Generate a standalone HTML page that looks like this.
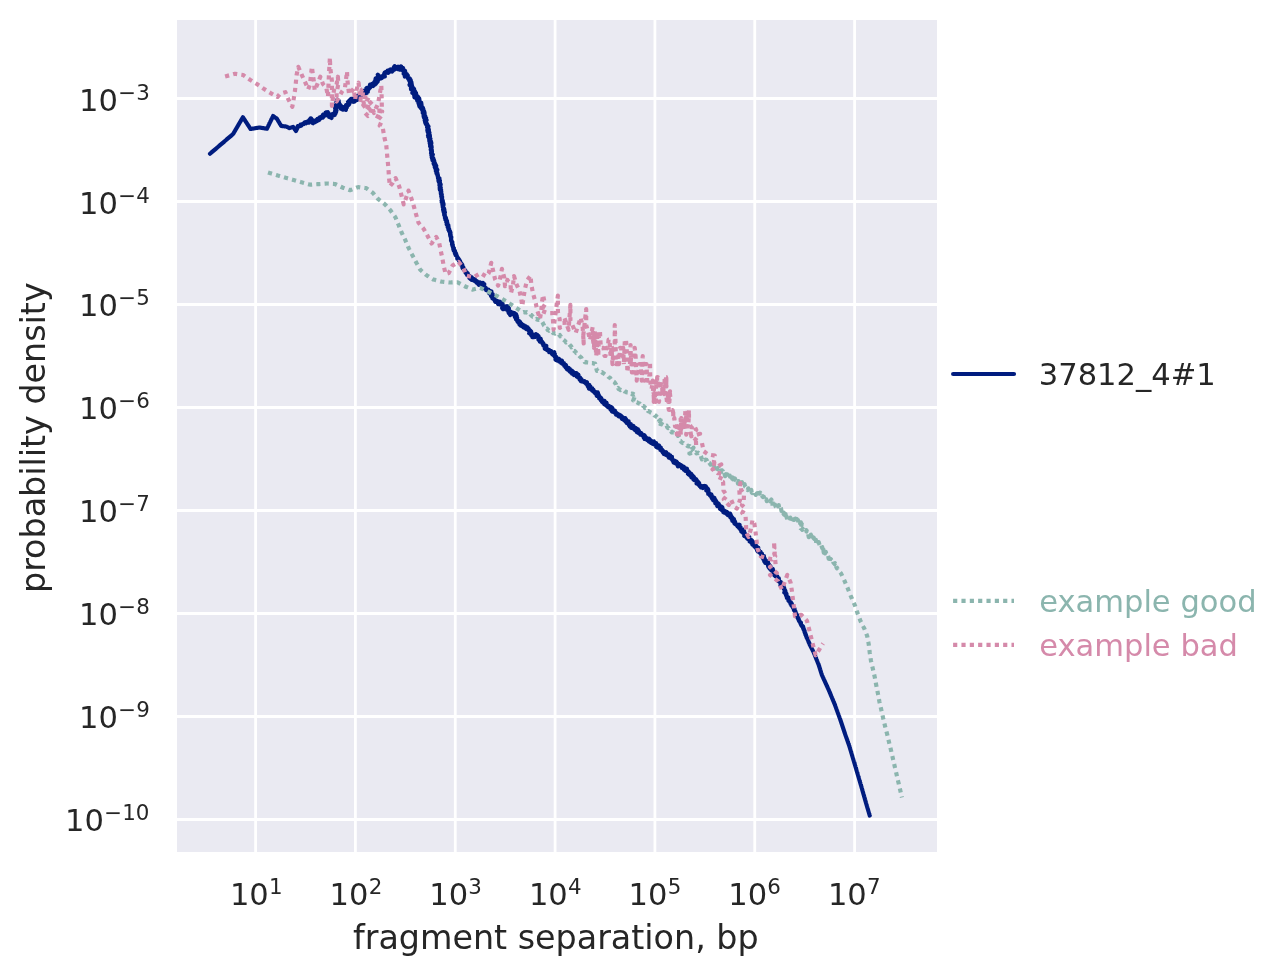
<!DOCTYPE html>
<html lang="en"><head><meta charset="utf-8"><title>fragment separation</title>
<style>html,body{margin:0;padding:0;background:#fff;}body{width:1283px;height:976px;overflow:hidden;}svg{display:block;}text{font-family:"DejaVu Sans","Liberation Sans",sans-serif;}</style>
</head><body>
<svg width="1283" height="976" viewBox="0 0 1283 976">
<rect x="0" y="0" width="1283" height="976" fill="#ffffff"/>
<defs><clipPath id="ax"><rect x="177" y="20" width="760" height="832"/></clipPath></defs>
<rect x="177" y="20" width="760" height="832" fill="#eaeaf2"/>
<g stroke="#ffffff" stroke-width="2.78" fill="none">
<line x1="255.60" y1="20" x2="255.60" y2="852"/>
<line x1="355.43" y1="20" x2="355.43" y2="852"/>
<line x1="455.26" y1="20" x2="455.26" y2="852"/>
<line x1="555.09" y1="20" x2="555.09" y2="852"/>
<line x1="654.92" y1="20" x2="654.92" y2="852"/>
<line x1="754.75" y1="20" x2="754.75" y2="852"/>
<line x1="854.58" y1="20" x2="854.58" y2="852"/>
<line x1="177" y1="98.50" x2="937" y2="98.50"/>
<line x1="177" y1="201.50" x2="937" y2="201.50"/>
<line x1="177" y1="304.50" x2="937" y2="304.50"/>
<line x1="177" y1="407.50" x2="937" y2="407.50"/>
<line x1="177" y1="510.50" x2="937" y2="510.50"/>
<line x1="177" y1="613.50" x2="937" y2="613.50"/>
<line x1="177" y1="716.50" x2="937" y2="716.50"/>
<line x1="177" y1="819.50" x2="937" y2="819.50"/>
</g>
<g clip-path="url(#ax)" fill="none" stroke-linejoin="round">
<path d="M210.00,153.75 L210.30,153.49 L210.61,153.23 L210.91,152.97 L211.22,152.71 L211.52,152.45 L211.82,152.19 L212.13,151.93 L212.43,151.67 L212.74,151.41 L213.04,151.15 L213.34,150.89 L213.65,150.63 L213.95,150.37 L214.26,150.11 L214.56,149.85 L214.86,149.59 L215.17,149.33 L215.47,149.07 L215.78,148.81 L216.08,148.55 L216.38,148.29 L216.69,148.03 L216.99,147.77 L217.29,147.51 L217.60,147.25 L217.90,146.99 L218.21,146.73 L218.51,146.47 L218.81,146.21 L219.12,145.95 L219.42,145.69 L219.73,145.43 L220.03,145.17 L220.33,144.91 L220.64,144.65 L220.94,144.39 L221.25,144.13 L221.55,143.88 L221.85,143.62 L222.16,143.36 L222.46,143.10 L222.77,142.84 L223.07,142.58 L223.37,142.32 L223.68,142.06 L223.98,141.80 L224.29,141.54 L224.59,141.28 L224.89,141.02 L225.20,140.76 L225.50,140.50 L225.81,140.24 L226.11,139.98 L226.41,139.72 L226.72,139.46 L227.02,139.20 L227.32,138.94 L227.63,138.68 L227.93,138.42 L228.24,138.16 L228.54,137.90 L228.84,137.64 L229.15,137.38 L229.45,137.12 L229.76,136.86 L230.06,136.60 L230.36,136.34 L230.67,136.08 L230.97,135.82 L231.28,135.56 L231.58,135.30 L231.88,135.04 L232.19,134.78 L232.49,134.52 L232.80,134.26 L233.10,134.00 L233.30,133.66 L233.50,133.32 L233.70,132.97 L233.90,132.63 L234.10,132.29 L234.30,131.95 L234.50,131.61 L234.70,131.27 L234.90,130.92 L235.10,130.58 L235.30,130.24 L235.50,129.90 L235.70,129.56 L235.90,129.21 L236.10,128.87 L236.30,128.53 L236.50,128.19 L236.70,127.85 L236.90,127.51 L237.10,127.16 L237.30,126.82 L237.50,126.48 L237.70,126.14 L237.90,125.80 L238.10,125.45 L238.30,125.11 L238.50,124.77 L238.70,124.43 L238.90,124.09 L239.10,123.74 L239.30,123.40 L239.50,123.06 L239.70,122.72 L239.90,122.38 L240.10,122.04 L240.30,121.69 L240.50,121.35 L240.70,121.01 L240.90,120.67 L241.10,120.33 L241.30,119.98 L241.50,119.64 L241.70,119.30 L241.90,118.96 L242.10,118.62 L242.30,118.28 L242.50,117.93 L242.70,117.59 L242.90,117.25 L243.12,117.59 L243.34,117.92 L243.56,118.26 L243.78,118.59 L244.00,118.93 L244.22,119.26 L244.44,119.60 L244.66,119.94 L244.88,120.27 L245.10,120.61 L245.32,120.94 L245.54,121.28 L245.76,121.61 L245.98,121.95 L246.20,122.29 L246.42,122.62 L246.64,122.96 L246.86,123.29 L247.08,123.63 L247.30,123.96 L247.52,124.30 L247.74,124.64 L247.96,124.97 L248.18,125.31 L248.40,125.64 L248.62,125.98 L248.84,126.31 L249.06,126.65 L249.28,126.99 L249.50,127.32 L249.72,127.66 L249.94,127.99 L250.16,128.33 L250.38,128.66 L250.60,129.00 L251.00,128.93 L251.40,128.86 L251.80,128.80 L252.20,128.73 L252.60,128.66 L253.00,128.59 L253.40,128.52 L253.80,128.45 L254.20,128.39 L254.60,128.32 L255.00,128.25 L255.40,128.18 L255.80,128.11 L256.20,128.05 L256.60,127.98 L257.00,127.91 L257.40,127.84 L257.80,127.77 L258.20,127.70 L258.60,127.64 L259.00,127.57 L259.40,127.50 L259.79,127.57 L260.19,127.63 L260.58,127.70 L260.98,127.76 L261.37,127.83 L261.77,127.89 L262.16,127.96 L262.56,128.03 L262.95,128.09 L263.35,128.16 L263.74,128.22 L264.14,128.29 L264.53,128.36 L264.93,128.42 L265.32,128.49 L265.72,128.55 L266.11,128.62 L266.51,128.68 L266.90,128.75 L267.08,128.39 L267.25,128.02 L267.43,127.66 L267.61,127.29 L267.79,126.93 L267.96,126.56 L268.14,126.20 L268.32,125.84 L268.49,125.47 L268.67,125.11 L268.85,124.74 L269.03,124.38 L269.20,124.01 L269.38,123.65 L269.56,123.29 L269.73,122.92 L269.91,122.56 L270.09,122.19 L270.27,121.83 L270.44,121.46 L270.62,121.10 L270.80,120.74 L270.97,120.37 L271.15,120.01 L271.33,119.64 L271.51,119.28 L271.68,118.91 L271.86,118.55 L272.04,118.19 L272.21,117.82 L272.39,117.46 L272.57,117.09 L272.75,116.73 L272.92,116.36 L273.10,116.00 L273.42,116.23 L273.73,116.46 L274.05,116.69 L274.37,116.92 L274.68,117.15 L275.00,117.38 L275.32,117.60 L275.63,117.83 L275.95,118.06 L276.27,118.29 L276.58,118.52 L276.90,118.75 L277.11,119.10 L277.31,119.44 L277.52,119.79 L277.73,120.13 L277.94,120.48 L278.14,120.82 L278.35,121.17 L278.56,121.51 L278.76,121.86 L278.97,122.20 L279.18,122.55 L279.39,122.89 L279.59,123.24 L279.80,123.58 L280.01,123.93 L280.21,124.27 L280.42,124.62 L280.63,124.96 L280.84,125.31 L281.04,125.65 L281.25,126.00 L281.63,126.04 L282.02,126.08 L282.40,126.12 L282.79,126.15 L283.17,126.19 L283.56,126.23 L283.94,126.27 L284.33,126.31 L284.71,126.35 L285.10,126.38 L285.48,126.42 L285.87,126.46 L286.25,126.50 L286.60,126.68 L286.95,126.86 L287.30,127.03 L287.65,127.21 L288.00,127.39 L288.35,127.57 L288.70,127.74 L289.05,127.92 L289.40,128.10 L289.77,127.98 L290.14,127.86 L290.51,127.74 L290.88,127.62 L291.25,127.50 L291.62,127.38 L291.99,127.26 L292.36,127.14 L292.73,127.02 L293.10,126.90 L293.32,127.22 L293.55,127.53 L293.77,127.85 L293.99,128.16 L294.22,128.48 L294.44,128.79 L294.66,129.11 L294.88,129.42 L295.11,129.74 L295.33,130.05 L295.55,130.37 L295.78,130.68 L296.00,131.00 L296.16,130.62 L296.33,130.25 L296.43,129.93 L296.71,129.41 L296.75,129.10 L296.96,129.00 L297.12,128.59 L297.17,128.15 L297.60,127.79 L297.72,127.36 L297.56,127.10 L297.99,126.82 L297.82,126.08 L298.47,126.46 L299.19,126.19 L299.67,126.06 L299.98,125.47 L300.56,125.38 L300.01,125.92 L300.53,124.56 L301.18,125.76 L301.33,124.97 L301.74,124.54 L302.29,124.04 L302.98,124.19 L303.32,124.12 L303.71,124.18 L303.03,123.63 L304.31,123.72 L304.22,123.71 L304.16,123.29 L304.99,123.41 L304.74,122.35 L306.29,123.27 L306.44,121.80 L306.00,122.29 L307.17,121.98 L306.62,122.96 L307.00,122.39 L307.76,122.49 L309.00,122.71 L309.41,121.91 L308.35,121.19 L308.46,121.40 L309.13,120.28 L308.96,120.73 L310.09,119.29 L310.38,119.47 L309.76,120.25 L310.12,119.06 L310.39,119.07 L310.60,118.56 L310.61,118.97 L311.08,118.32 L310.68,118.30 L311.17,120.12 L310.63,119.62 L311.60,119.72 L311.83,119.28 L311.23,120.87 L311.98,121.21 L312.00,121.68 L312.72,122.09 L311.94,121.06 L313.40,122.74 L312.86,122.23 L312.84,123.29 L313.17,122.58 L313.92,122.35 L313.94,121.97 L313.76,122.72 L315.14,122.05 L314.72,121.27 L315.08,122.08 L315.71,120.52 L315.55,121.38 L316.23,120.33 L316.73,121.20 L316.65,121.02 L317.73,119.64 L317.75,120.62 L317.57,118.92 L318.00,119.36 L319.35,119.75 L318.80,118.11 L319.70,119.28 L319.56,119.05 L319.80,117.27 L320.10,118.56 L320.66,117.29 L320.98,117.23 L320.89,118.16 L322.51,115.78 L322.92,117.60 L323.19,116.32 L322.31,117.25 L323.66,116.59 L323.42,116.12 L323.42,114.95 L323.24,114.53 L323.91,115.14 L323.78,115.41 L325.19,115.37 L325.83,115.16 L325.57,114.83 L326.16,112.37 L325.67,112.49 L326.36,113.45 L327.38,112.55 L326.62,112.78 L327.81,112.19 L327.93,113.07 L327.15,113.07 L328.52,113.85 L328.75,113.23 L329.04,115.47 L327.86,115.54 L329.67,115.35 L328.86,114.16 L329.59,115.04 L329.76,115.76 L329.15,117.00 L329.65,115.41 L329.80,115.91 L331.57,117.94 L331.23,115.34 L331.19,115.73 L332.13,115.60 L331.91,116.01 L332.16,114.71 L332.91,114.30 L332.88,115.69 L332.81,113.72 L333.94,114.30 L333.83,115.21 L334.61,115.04 L334.44,113.78 L335.40,113.74 L335.45,113.13 L334.64,112.85 L335.60,112.67 L335.14,110.97 L336.11,111.58 L335.18,112.63 L336.08,112.13 L335.50,109.93 L336.27,109.13 L336.49,110.29 L336.12,110.27 L335.99,109.71 L336.11,107.49 L335.28,106.81 L335.14,108.65 L335.33,106.27 L335.56,108.18 L336.99,105.28 L337.06,105.17 L337.12,106.40 L336.66,106.83 L335.61,105.99 L336.67,105.51 L335.90,104.96 L337.69,104.67 L336.49,102.23 L337.62,103.33 L336.33,101.98 L337.32,101.61 L336.92,102.73 L337.00,101.17 L337.11,100.73 L337.36,99.52 L337.24,101.83 L336.78,100.75 L338.17,100.96 L337.79,101.28 L338.18,101.07 L337.24,102.73 L338.67,100.62 L338.29,103.55 L338.86,102.45 L337.99,102.01 L338.81,102.42 L338.16,103.16 L339.89,104.73 L339.46,103.85 L339.92,104.60 L338.72,105.52 L338.29,104.71 L339.23,105.93 L339.31,105.31 L340.38,106.17 L341.01,105.95 L340.23,107.43 L341.18,107.48 L340.94,108.77 L341.73,107.70 L341.36,109.09 L343.13,108.76 L341.73,107.92 L343.35,107.18 L344.36,108.85 L342.94,109.60 L343.37,107.24 L344.94,107.31 L345.86,109.93 L346.17,107.73 L345.40,108.04 L344.68,109.26 L346.85,106.47 L345.77,106.86 L346.80,107.60 L346.08,105.05 L346.66,106.32 L347.11,105.10 L346.78,107.56 L346.24,105.64 L347.87,104.25 L348.65,103.27 L346.73,105.93 L347.65,105.69 L348.85,104.68 L348.82,102.50 L349.35,103.50 L349.39,101.66 L349.36,103.94 L348.05,101.96 L348.87,101.44 L349.92,101.92 L348.79,100.98 L350.16,100.92 L351.04,98.78 L349.38,100.63 L349.82,101.72 L351.74,99.48 L351.68,100.52 L351.81,100.75 L351.45,99.52 L353.27,98.63 L353.19,101.27 L353.09,101.26 L353.54,99.49 L353.01,101.84 L353.94,100.48 L354.61,101.52 L355.01,99.58 L356.25,100.08 L356.71,99.07 L355.44,97.87 L355.29,97.53 L357.18,99.82 L356.02,97.28 L357.75,97.87 L358.03,99.09 L356.69,97.95 L357.08,96.93 L358.34,97.13 L357.76,95.60 L357.43,97.52 L359.99,97.31 L358.90,97.58 L359.69,95.78 L361.01,95.80 L359.47,95.71 L360.30,96.16 L361.30,94.97 L361.76,92.48 L361.37,94.78 L361.63,94.05 L362.16,92.59 L362.43,91.78 L362.63,93.89 L364.35,93.38 L362.50,94.41 L364.15,93.82 L363.79,90.79 L363.39,91.28 L366.00,92.23 L366.19,91.20 L364.58,92.41 L366.17,92.82 L366.82,92.87 L366.10,91.85 L367.93,91.79 L366.89,91.69 L367.28,90.98 L366.37,88.21 L367.06,87.78 L368.12,87.79 L368.49,89.52 L369.06,88.16 L368.83,87.40 L368.93,88.81 L370.53,86.31 L369.38,88.05 L370.08,86.41 L369.65,87.12 L370.00,84.72 L370.21,87.54 L370.73,86.16 L371.05,85.06 L371.43,85.66 L371.66,84.08 L373.05,84.47 L372.19,83.91 L373.60,85.24 L373.04,86.07 L374.34,84.78 L376.24,83.20 L374.06,83.55 L374.38,84.14 L375.00,84.32 L374.35,82.05 L375.08,83.96 L375.72,83.81 L375.41,83.98 L375.46,81.01 L376.56,82.77 L375.27,80.61 L377.73,81.51 L375.30,80.79 L375.66,78.27 L375.65,78.42 L377.43,77.60 L376.36,80.43 L377.23,80.33 L378.54,79.31 L376.32,79.44 L377.98,76.65 L376.73,78.71 L378.90,75.85 L377.81,74.79 L378.97,75.78 L378.02,78.19 L379.90,77.63 L379.82,78.15 L379.70,78.64 L379.74,76.86 L380.80,78.41 L380.37,76.62 L381.83,78.08 L381.54,77.78 L381.21,76.67 L381.16,77.27 L383.41,76.08 L381.94,76.62 L384.22,74.69 L384.61,75.97 L383.76,76.59 L384.81,76.42 L384.14,74.02 L384.51,72.77 L384.02,75.87 L384.33,74.14 L386.06,72.03 L384.76,72.37 L386.63,71.78 L385.30,73.24 L388.19,71.70 L387.46,71.48 L388.39,72.05 L388.75,72.57 L387.50,72.12 L387.56,70.57 L388.00,72.85 L390.62,69.62 L390.77,70.10 L389.98,69.48 L391.29,69.81 L391.14,71.12 L392.10,71.49 L391.73,69.72 L390.77,69.92 L392.40,71.21 L391.72,70.95 L392.71,69.65 L391.99,70.12 L393.39,68.42 L393.88,67.12 L393.84,69.39 L394.64,68.81 L394.27,66.91 L394.53,69.63 L394.18,67.24 L394.70,66.18 L396.50,68.64 L397.58,68.52 L397.81,67.63 L396.83,67.44 L398.50,69.10 L397.77,69.21 L397.95,68.64 L399.69,69.59 L400.11,67.01 L398.26,66.70 L399.17,68.84 L400.47,68.17 L401.14,66.45 L400.69,67.45 L401.89,67.81 L400.97,69.63 L401.29,67.47 L400.99,68.93 L403.09,68.25 L403.95,70.62 L403.97,71.97 L402.35,69.95 L403.44,70.01 L403.94,71.12 L405.05,70.78 L404.30,70.78 L405.40,73.42 L404.08,71.52 L403.64,73.81 L405.21,71.59 L404.42,73.47 L404.71,71.97 L405.59,75.06 L406.62,76.20 L404.80,76.54 L404.93,73.87 L405.98,75.16 L406.71,74.06 L406.27,74.57 L407.76,75.50 L406.50,76.50 L407.13,75.42 L407.97,77.98 L408.64,79.28 L407.16,76.96 L409.22,79.11 L409.65,78.37 L408.50,78.74 L408.12,77.49 L410.55,79.69 L409.51,81.08 L410.83,80.56 L410.06,81.52 L409.94,80.40 L409.14,79.87 L411.39,82.21 L409.93,82.09 L410.16,81.74 L410.25,83.85 L409.55,84.84 L410.63,82.78 L411.60,83.55 L411.91,85.52 L409.61,85.10 L411.09,85.35 L410.47,85.41 L412.25,86.65 L411.70,84.74 L411.45,86.13 L412.79,88.48 L410.91,87.89 L411.03,89.31 L412.90,87.63 L411.58,87.74 L413.52,90.51 L412.21,88.47 L411.68,88.70 L414.09,88.95 L412.25,88.66 L412.01,89.48 L413.93,91.09 L413.79,92.64 L412.28,92.93 L414.98,91.26 L413.29,90.81 L413.45,92.75 L413.01,93.35 L415.59,92.54 L415.61,92.55 L416.00,93.05 L415.23,95.30 L413.82,93.64 L414.37,96.30 L416.33,94.45 L414.50,97.36 L416.03,98.00 L415.13,96.12 L417.70,96.46 L415.66,96.35 L415.88,96.15 L418.21,97.25 L416.52,96.52 L418.90,100.11 L417.14,100.57 L419.25,98.51 L418.82,99.32 L417.24,98.98 L419.41,99.41 L419.06,101.45 L419.10,100.61 L419.22,100.91 L418.45,102.77 L420.53,102.23 L418.65,103.57 L420.53,104.39 L419.13,101.74 L418.69,102.24 L419.76,105.57 L419.10,105.54 L421.23,102.67 L421.67,105.98 L420.57,105.95 L419.56,106.62 L420.60,106.15 L421.14,105.06 L421.02,106.10 L420.66,106.66 L421.51,106.98 L422.51,109.63 L422.38,109.56 L422.88,107.84 L420.85,108.15 L422.53,109.35 L422.45,109.15 L423.39,109.31 L422.31,110.30 L423.43,110.94 L422.71,112.92 L423.07,111.37 L422.73,110.43 L423.73,113.53 L424.06,111.15 L424.50,112.65 L422.78,112.97 L424.54,113.96 L424.63,113.93 L423.56,115.26 L424.04,114.23 L423.86,114.94 L425.19,116.16 L423.61,116.30 L424.28,115.45 L423.88,117.14 L424.45,115.74 L423.91,116.78 L426.07,118.01 L425.74,118.38 L426.06,119.73 L425.25,120.39 L424.62,120.02 L425.30,121.04 L426.56,120.11 L425.07,119.89 L426.09,122.00 L424.90,120.02 L424.96,121.26 L425.45,123.17 L426.00,121.78 L426.20,122.92 L426.80,123.68 L425.65,123.45 L427.05,125.54 L426.60,123.12 L427.90,125.60 L425.86,123.84 L426.85,125.51 L427.82,127.18 L427.04,125.83 L428.13,126.99 L427.17,126.20 L427.80,126.24 L428.50,126.45 L427.81,128.35 L427.17,127.42 L428.57,128.97 L427.44,129.57 L428.31,131.29 L427.42,130.32 L428.96,130.02 L428.27,129.92 L427.98,131.76 L429.21,132.59 L428.93,133.24 L427.61,131.70 L428.21,132.77 L429.43,132.46 L429.41,132.92 L428.05,135.42 L428.70,135.73 L428.35,134.09 L429.06,133.97 L429.85,135.37 L428.33,137.05 L429.07,136.20 L428.88,135.95 L429.84,136.59 L428.76,137.20 L429.49,137.25 L429.18,138.62 L429.20,139.39 L430.06,139.70 L430.42,138.70 L430.08,139.70 L430.30,140.67 L429.23,140.64 L430.85,142.00 L430.35,141.57 L431.02,141.36 L429.76,142.91 L431.29,143.68 L431.36,142.77 L429.83,143.55 L430.19,144.60 L430.71,145.04 L430.65,143.72 L430.61,146.16 L431.39,145.71 L430.74,145.85 L431.42,146.63 L430.08,145.99 L431.00,147.91 L431.69,147.07 L431.08,149.04 L431.68,149.72 L430.71,149.47 L431.49,147.89 L430.92,150.23 L431.38,149.94 L431.69,149.73 L431.18,150.97 L431.57,150.16 L431.96,151.12 L431.42,151.14 L431.53,151.60 L431.05,153.00 L431.81,152.04 L431.93,152.82 L431.26,153.13 L432.83,154.50 L432.17,155.75 L431.43,154.93 L431.95,155.02 L431.67,157.14 L432.39,157.55 L432.08,156.63 L432.02,158.38 L432.68,157.78 L432.24,157.23 L433.32,159.64 L433.59,159.39 L433.31,158.18 L432.54,160.23 L433.94,159.89 L433.70,159.94 L433.67,159.92 L433.53,160.57 L434.29,161.20 L433.79,162.51 L433.80,162.75 L433.64,163.41 L434.34,163.15 L433.56,163.15 L434.71,163.00 L435.04,163.48 L435.51,164.58 L435.26,165.78 L434.25,165.02 L435.57,165.84 L434.80,167.09 L436.23,165.66 L435.54,167.41 L435.12,167.79 L436.12,167.71 L435.42,168.23 L436.32,167.52 L435.66,169.64 L435.67,168.00 L436.27,170.18 L437.33,169.80 L436.26,170.54 L435.93,171.13 L437.14,170.56 L436.18,170.69 L436.75,171.87 L436.49,173.28 L437.04,173.28 L437.22,173.67 L437.13,173.74 L437.43,173.13 L437.36,174.80 L437.56,173.92 L437.50,174.01 L437.95,175.45 L437.66,175.89 L437.35,175.01 L437.71,176.09 L437.91,176.98 L438.52,177.78 L438.82,177.95 L438.45,178.03 L437.99,177.95 L438.75,179.38 L439.46,178.29 L439.08,179.73 L438.41,179.82 L438.55,181.41 L439.86,180.47 L439.19,180.35 L438.89,181.51 L439.22,182.85 L439.38,181.32 L439.80,181.71 L440.16,183.92 L439.89,182.60 L439.67,183.54 L439.50,183.93 L440.04,183.99 L440.61,184.30 L440.68,184.61 L439.48,185.31 L440.20,186.85 L440.24,187.30 L439.71,187.42 L440.40,187.90 L439.75,188.89 L440.78,187.47 L440.49,189.61 L440.74,189.57 L440.65,189.31 L440.09,190.13 L441.14,189.92 L440.82,190.22 L440.71,190.61 L441.30,191.79 L440.98,192.79 L440.84,191.67 L440.75,191.78 L441.32,193.22 L440.78,192.92 L440.82,193.03 L440.98,194.22 L441.46,195.37 L441.33,194.68 L441.80,194.49 L441.34,196.27 L441.27,196.61 L441.26,196.01 L441.83,196.36 L442.05,197.62 L442.15,196.96 L441.67,198.08 L441.80,198.52 L441.80,198.33 L442.28,199.58 L441.63,200.49 L442.50,200.83 L442.79,200.88 L442.57,200.16 L441.74,202.02 L442.92,201.83 L442.86,201.65 L442.37,203.22 L442.14,202.17 L442.49,203.86 L442.58,203.29 L442.40,204.84 L443.39,203.53 L442.71,204.49 L442.65,206.12 L443.51,204.85 L442.71,205.55 L442.78,207.23 L442.99,207.56 L442.91,206.85 L443.42,207.69 L443.42,207.82 L443.91,208.04 L443.87,209.60 L443.07,209.79 L443.30,209.15 L444.35,209.37 L444.36,211.13 L443.43,210.90 L443.44,211.06 L443.79,212.32 L444.73,211.61 L444.78,211.85 L444.54,212.45 L444.92,212.48 L444.32,213.40 L444.71,214.25 L444.21,213.94 L444.18,214.90 L444.65,215.82 L444.72,214.99 L444.79,215.30 L444.98,216.44 L444.93,216.48 L445.60,217.14 L445.67,217.45 L444.98,217.93 L445.93,217.79 L445.46,218.71 L446.13,219.16 L445.68,219.30 L445.40,219.67 L446.06,220.35 L446.16,220.65 L446.58,221.00 L447.01,220.91 L447.00,221.18 L447.03,221.66 L446.35,222.18 L447.32,223.02 L447.49,223.88 L446.69,224.48 L446.88,223.91 L447.38,224.88 L447.88,225.24 L447.87,226.02 L447.85,226.21 L448.34,225.36 L447.60,225.76 L447.93,227.27 L447.79,227.40 L448.64,227.10 L448.54,227.22 L448.36,228.95 L449.03,228.98 L449.17,229.24 L448.52,229.73 L449.18,229.38 L448.98,230.89 L449.01,230.72 L449.46,231.47 L449.80,231.39 L449.98,231.22 L450.23,232.54 L449.74,232.19 L450.47,232.43 L450.04,233.21 L450.42,233.73 L450.14,233.85 L450.65,234.87 L450.04,234.61 L450.76,235.90 L450.51,235.83 L450.62,236.74 L450.37,236.10 L450.93,236.69 L451.35,237.11 L450.95,237.91 L451.16,238.32 L451.14,238.66 L451.21,238.93 L450.99,239.76 L451.17,240.10 L451.03,240.59 L451.46,240.48 L451.30,241.20 L451.31,240.97 L451.82,241.79 L451.51,241.40 L452.35,242.08 L452.07,242.82 L452.27,242.97 L452.39,244.08 L452.28,243.32 L452.00,244.39 L452.37,245.19 L452.78,244.87 L452.77,245.66 L452.90,246.43 L452.56,246.08 L452.96,246.76 L453.05,247.12 L452.86,246.76 L453.02,247.35 L453.61,248.70 L453.85,248.22 L453.32,249.16 L453.59,249.70 L453.61,250.42 L453.83,249.81 L454.49,251.00 L453.95,250.98 L454.60,251.15 L454.99,250.99 L455.18,252.44 L455.04,252.60 L454.88,253.34 L454.91,252.76 L455.75,252.95 L455.87,253.18 L456.18,253.96 L456.17,254.83 L455.71,255.30 L456.21,254.85 L456.68,255.44 L456.93,256.42 L457.06,256.85 L457.05,256.41 L457.53,257.31 L457.25,257.14 L457.31,257.84 L457.26,258.57 L457.91,258.60 L458.17,258.32 L458.76,259.06 L458.61,259.98 L459.11,260.31 L459.27,259.67 L459.64,260.95 L459.26,261.20 L459.73,260.77 L460.04,261.12 L460.32,261.98 L460.02,262.02 L460.58,263.14 L460.69,262.75 L460.98,263.17 L460.85,263.63 L461.64,264.63 L461.26,264.67 L461.92,264.22 L462.05,265.45 L462.30,264.97 L462.14,265.77 L462.40,266.23 L462.88,266.68 L462.43,267.51 L463.43,267.31 L463.25,267.79 L462.90,268.44 L463.66,268.72 L463.54,268.79 L463.54,269.21 L463.85,269.45 L464.57,270.38 L464.70,270.11 L464.66,270.35 L465.17,270.41 L465.25,271.62 L465.57,270.96 L465.57,271.15 L465.28,272.17 L466.42,272.38 L466.04,273.01 L466.33,273.64 L466.63,274.10 L467.57,273.02 L466.95,273.31 L467.02,274.86 L468.21,274.77 L467.80,275.17 L468.69,275.81 L468.67,275.78 L468.62,275.58 L469.67,277.25 L468.81,275.53 L469.93,276.29 L469.25,276.54 L469.49,278.08 L470.24,278.81 L471.14,278.89 L471.41,277.51 L470.78,278.23 L471.91,277.56 L471.53,279.06 L471.65,279.99 L471.75,279.23 L473.53,279.21 L472.47,279.84 L473.72,279.35 L474.51,279.69 L474.80,279.29 L475.03,281.13 L473.80,280.59 L475.27,280.27 L474.54,280.01 L476.51,282.45 L476.78,282.85 L477.22,282.13 L476.91,282.74 L476.14,282.10 L476.97,281.27 L477.06,282.56 L478.37,284.27 L479.40,283.76 L479.74,282.39 L478.80,284.77 L480.27,282.45 L480.63,284.92 L480.60,283.58 L480.22,282.80 L481.68,283.83 L482.45,282.94 L482.92,282.87 L482.99,283.60 L483.67,285.45 L483.52,284.51 L483.97,284.35 L484.25,284.18 L482.70,286.01 L483.40,287.43 L483.46,285.19 L483.68,285.45 L485.33,287.87 L485.23,288.01 L485.11,288.96 L484.31,288.03 L485.10,287.72 L485.86,288.04 L485.88,288.57 L486.34,289.43 L485.92,288.43 L486.18,290.21 L488.12,290.34 L488.47,289.67 L488.79,290.52 L488.75,290.44 L487.93,291.08 L489.10,290.77 L489.62,290.78 L490.26,292.30 L489.25,292.19 L490.41,292.23 L489.25,293.30 L491.44,291.37 L491.02,292.34 L490.52,293.36 L491.01,293.27 L491.10,295.28 L490.76,295.06 L491.54,295.19 L492.27,295.66 L492.60,294.03 L491.26,295.99 L491.07,295.92 L492.77,295.59 L492.98,297.40 L491.53,296.12 L492.49,297.14 L492.36,298.42 L493.25,298.79 L493.97,297.73 L493.85,297.37 L492.98,298.01 L494.27,299.17 L494.26,299.86 L495.40,301.10 L494.06,299.06 L495.20,301.77 L495.00,299.49 L495.28,301.56 L496.62,300.87 L496.93,300.99 L497.58,302.95 L497.59,302.17 L497.97,301.39 L498.22,302.59 L498.92,302.29 L499.20,301.61 L498.13,304.11 L500.48,302.11 L500.49,301.78 L499.27,303.46 L499.50,303.78 L500.48,304.62 L502.09,305.02 L501.20,303.02 L502.10,303.43 L500.82,303.62 L502.62,304.05 L501.65,304.80 L502.28,305.76 L503.27,306.03 L502.43,306.17 L502.10,308.10 L503.50,306.40 L503.77,307.19 L502.83,309.07 L502.65,307.49 L503.76,309.00 L503.59,307.30 L505.45,306.84 L505.16,306.44 L505.48,307.81 L505.61,307.34 L506.89,306.29 L506.74,308.30 L507.87,306.26 L506.48,306.48 L508.03,308.13 L506.68,308.34 L506.94,309.94 L508.86,308.41 L508.54,310.13 L508.91,308.35 L507.31,309.70 L509.40,311.24 L508.57,309.39 L508.48,312.33 L509.59,310.91 L510.21,311.70 L510.09,313.32 L508.86,313.25 L509.83,313.56 L509.97,313.32 L509.37,313.17 L510.14,314.99 L511.83,312.57 L511.62,313.78 L510.93,313.27 L512.78,313.25 L513.37,313.07 L513.75,313.16 L513.22,312.79 L513.01,312.64 L513.88,313.82 L513.99,313.86 L514.63,313.18 L514.27,315.31 L516.04,314.23 L514.93,315.07 L514.77,316.71 L514.72,314.50 L516.64,315.77 L515.58,315.67 L515.29,317.59 L516.67,315.61 L516.53,316.19 L516.83,316.73 L516.67,319.22 L517.17,317.85 L516.13,319.50 L516.95,318.48 L516.88,319.65 L516.99,320.47 L517.42,321.53 L517.08,319.79 L517.61,319.82 L518.26,322.40 L519.64,321.39 L519.46,323.27 L518.78,321.41 L518.87,322.52 L519.01,322.35 L520.37,322.35 L519.96,323.75 L520.55,323.67 L519.54,324.62 L520.70,325.41 L521.98,324.21 L520.94,325.77 L521.47,323.78 L521.68,325.24 L522.45,324.42 L523.19,325.10 L522.55,326.13 L523.22,327.23 L523.22,325.21 L523.88,325.32 L525.30,328.10 L524.00,327.54 L524.45,326.51 L525.71,327.12 L525.74,326.28 L526.45,327.69 L526.24,329.10 L526.33,328.64 L527.44,328.40 L527.53,327.41 L527.08,329.08 L528.67,328.65 L527.58,329.28 L528.52,329.41 L528.40,330.08 L528.37,330.17 L529.41,331.05 L529.64,330.13 L530.70,331.11 L529.16,333.32 L529.85,332.93 L531.21,331.50 L531.27,334.21 L531.91,333.73 L531.52,333.81 L532.15,334.43 L531.23,335.36 L531.98,333.74 L531.82,335.21 L533.10,336.35 L532.69,336.16 L532.22,336.51 L532.32,337.17 L533.72,337.28 L533.16,335.22 L534.10,336.01 L533.68,336.13 L534.74,336.48 L535.74,335.00 L535.48,335.32 L535.80,334.68 L535.63,334.19 L535.61,336.87 L537.41,334.95 L537.01,336.11 L537.67,337.05 L538.05,336.54 L538.48,335.88 L538.28,337.11 L538.81,337.39 L538.77,337.90 L539.53,338.03 L538.47,339.70 L540.30,339.94 L538.99,338.68 L540.88,341.06 L540.75,338.95 L539.95,341.65 L540.29,341.50 L541.00,341.81 L540.46,341.17 L541.90,342.03 L540.76,341.27 L541.44,340.99 L542.69,344.04 L542.93,344.06 L542.40,342.10 L543.61,344.87 L543.77,345.32 L543.89,344.80 L543.42,345.74 L543.40,343.41 L543.55,343.68 L543.79,345.73 L543.64,345.03 L544.76,345.69 L545.88,346.71 L544.67,345.47 L546.32,345.81 L545.98,347.80 L544.83,348.67 L545.76,349.27 L546.14,348.77 L546.16,349.44 L546.28,348.36 L546.94,350.03 L546.96,348.64 L547.23,350.20 L548.57,350.49 L548.83,350.84 L549.32,350.04 L548.95,352.16 L548.37,349.61 L550.35,352.02 L549.95,352.13 L549.47,351.79 L551.67,352.17 L551.20,351.20 L551.63,353.34 L551.12,352.05 L552.91,353.41 L552.15,354.05 L553.36,353.86 L553.59,352.96 L552.77,353.20 L554.22,352.25 L552.99,354.86 L553.76,353.14 L554.83,353.93 L554.72,354.23 L554.42,355.67 L554.80,356.93 L555.48,356.26 L554.67,356.29 L556.05,358.29 L555.71,357.42 L555.49,357.99 L556.21,356.71 L555.47,359.54 L556.24,360.14 L557.27,360.54 L556.30,358.72 L558.29,360.71 L557.85,360.60 L558.65,359.96 L559.14,360.94 L559.51,359.48 L559.36,361.61 L558.94,358.92 L559.82,360.99 L560.66,361.93 L560.01,361.42 L561.57,361.04 L562.36,362.36 L561.90,360.54 L561.29,363.00 L561.73,360.59 L562.28,362.88 L563.59,363.12 L562.18,363.74 L564.03,363.69 L564.41,364.05 L564.14,364.70 L564.24,365.16 L563.95,363.20 L564.31,365.99 L565.68,364.91 L565.76,365.87 L565.42,365.54 L565.02,364.67 L565.98,365.22 L565.25,366.64 L565.56,367.28 L565.66,366.84 L566.15,367.43 L566.92,369.09 L567.40,369.02 L568.55,367.78 L568.17,367.90 L569.49,369.26 L567.82,369.72 L570.02,369.24 L569.11,370.71 L569.21,368.80 L569.34,370.95 L569.83,371.62 L571.04,371.28 L570.98,370.21 L570.77,371.64 L571.83,371.58 L571.42,373.09 L572.20,370.97 L572.47,372.48 L572.19,373.66 L573.06,372.68 L573.34,371.98 L573.49,372.98 L575.08,374.18 L573.78,375.00 L575.63,373.44 L574.14,372.81 L576.28,372.99 L575.48,374.55 L576.74,373.56 L576.64,376.48 L576.67,376.51 L576.13,374.99 L576.35,375.24 L576.41,375.72 L578.47,375.01 L578.58,377.71 L578.09,376.50 L579.08,377.35 L578.78,376.91 L579.74,377.93 L578.26,377.60 L580.39,378.05 L580.13,377.64 L579.66,377.79 L579.58,379.54 L580.88,379.31 L581.51,379.39 L580.79,381.04 L582.11,381.02 L582.09,380.76 L582.73,380.92 L582.07,381.52 L583.32,381.64 L584.04,381.32 L583.64,381.11 L584.08,382.11 L584.54,381.19 L584.58,381.23 L585.25,382.47 L586.18,383.93 L586.35,382.28 L585.83,383.25 L586.90,382.19 L586.00,382.99 L586.24,383.46 L586.68,383.65 L587.15,384.62 L588.68,385.53 L587.84,386.30 L588.83,385.86 L588.37,386.29 L589.37,385.00 L588.76,386.70 L588.40,387.04 L590.39,387.70 L588.99,388.57 L590.63,388.04 L590.51,386.69 L589.93,387.15 L590.31,386.97 L591.19,389.74 L592.24,389.89 L592.29,388.21 L592.19,390.70 L591.51,389.27 L592.23,389.84 L593.18,389.56 L592.62,390.94 L593.44,389.81 L594.10,391.68 L594.90,391.73 L594.25,392.34 L595.03,392.56 L594.30,391.60 L595.77,391.96 L595.21,393.34 L595.04,392.97 L596.14,393.39 L597.26,394.22 L597.73,392.38 L597.97,393.05 L596.67,395.81 L596.76,394.04 L598.29,396.21 L598.64,396.69 L598.83,395.19 L598.14,395.49 L599.17,396.01 L599.13,396.00 L599.87,397.06 L599.33,397.08 L599.67,397.65 L599.18,398.49 L599.28,397.15 L601.23,398.17 L601.04,399.04 L601.68,400.36 L600.67,398.75 L600.93,399.79 L600.87,400.28 L602.47,399.98 L601.51,399.88 L601.86,401.68 L602.99,402.45 L603.07,402.73 L602.74,401.84 L604.45,400.86 L602.87,401.66 L604.14,404.05 L605.25,403.24 L604.18,403.95 L605.33,402.85 L604.74,404.29 L605.64,403.25 L606.58,402.93 L605.52,404.97 L606.76,404.99 L606.73,403.77 L607.09,406.13 L606.94,406.18 L608.17,407.24 L607.10,406.17 L607.39,405.82 L608.07,406.32 L608.65,405.98 L608.92,405.93 L608.92,407.26 L610.94,407.68 L611.24,408.45 L610.91,406.89 L611.77,407.58 L611.60,408.62 L610.65,409.75 L612.36,408.01 L611.85,410.45 L611.27,408.35 L612.97,410.96 L613.21,409.96 L612.09,411.55 L614.41,411.65 L614.50,412.30 L614.20,411.30 L614.88,410.60 L614.35,412.53 L614.16,410.98 L616.00,412.32 L616.17,412.81 L615.16,412.24 L615.52,412.68 L615.97,414.64 L616.97,413.41 L617.73,413.99 L617.97,414.93 L617.39,414.32 L618.98,414.60 L618.44,416.27 L617.74,415.11 L619.21,416.41 L618.62,415.27 L620.10,415.64 L619.51,415.23 L620.33,416.16 L619.76,414.84 L621.46,416.14 L620.35,416.36 L621.06,416.14 L621.47,417.90 L621.94,418.75 L621.72,416.55 L623.10,417.68 L623.76,418.75 L622.81,418.23 L623.49,419.67 L623.60,417.89 L624.88,419.24 L624.31,418.71 L625.29,418.09 L624.56,420.48 L626.15,419.36 L625.13,421.06 L626.62,422.18 L626.05,421.66 L626.57,422.70 L627.98,422.00 L626.55,422.89 L626.89,421.07 L628.58,421.32 L627.99,422.89 L628.30,422.65 L629.04,423.15 L629.61,423.38 L629.88,424.96 L628.69,424.96 L630.36,424.27 L630.06,424.36 L630.86,424.22 L630.16,424.88 L629.85,426.62 L630.82,424.48 L630.44,426.08 L632.13,426.17 L632.76,427.89 L631.29,427.87 L632.39,426.83 L633.40,426.06 L633.71,427.05 L632.95,428.49 L633.64,427.73 L633.04,427.54 L633.80,428.46 L635.29,428.20 L634.81,429.91 L635.87,428.00 L634.79,428.96 L636.79,430.68 L636.34,429.43 L636.60,431.57 L636.15,430.20 L638.01,429.48 L636.83,432.08 L637.17,431.82 L637.87,432.37 L638.51,432.47 L638.90,430.87 L638.11,432.83 L638.89,431.22 L640.69,433.52 L640.75,432.94 L639.84,433.98 L641.35,433.43 L640.95,433.79 L640.51,434.75 L641.60,434.21 L642.28,434.78 L642.13,434.14 L641.67,434.95 L643.78,436.18 L642.94,435.74 L643.34,435.42 L643.27,435.67 L643.78,437.65 L644.71,435.69 L644.38,435.31 L645.67,437.23 L644.37,436.70 L644.60,438.94 L645.96,437.54 L645.95,439.49 L646.11,437.50 L646.13,438.15 L647.22,439.97 L647.03,439.72 L648.68,439.76 L649.08,438.70 L648.89,439.11 L648.67,441.33 L648.86,441.51 L650.29,440.25 L648.79,440.96 L650.13,439.82 L649.45,440.61 L650.34,442.25 L650.75,442.73 L651.20,440.79 L652.53,442.94 L651.49,442.36 L651.84,442.47 L651.63,442.19 L653.90,441.38 L652.78,443.85 L652.68,443.61 L654.20,444.46 L654.15,444.36 L655.28,443.72 L654.06,443.58 L656.15,443.19 L654.68,443.90 L655.15,444.98 L656.82,444.78 L656.36,444.48 L657.58,446.85 L656.11,446.94 L657.49,447.53 L658.66,445.34 L658.93,445.54 L657.31,445.54 L658.70,447.14 L659.42,447.76 L659.50,446.60 L660.26,447.52 L659.98,448.71 L660.73,447.51 L659.53,448.26 L661.01,448.93 L660.63,448.91 L660.44,450.04 L661.05,448.86 L661.90,450.92 L662.14,449.69 L662.51,451.84 L661.40,450.16 L663.08,452.85 L663.42,450.99 L663.47,452.19 L663.83,451.80 L663.51,452.15 L664.57,452.22 L663.96,454.07 L664.21,451.95 L664.75,454.24 L666.10,452.25 L664.80,453.76 L666.05,454.95 L667.06,455.49 L667.49,455.66 L667.66,454.59 L667.66,455.16 L667.93,454.57 L668.75,454.39 L668.46,454.94 L669.33,457.18 L668.81,457.46 L670.31,455.35 L670.39,456.30 L669.82,456.86 L670.37,457.49 L670.78,458.45 L670.99,456.86 L671.99,456.88 L671.25,457.41 L671.49,458.94 L672.72,460.14 L672.24,458.74 L672.69,460.25 L672.61,460.23 L673.43,460.31 L673.21,461.59 L673.21,461.58 L673.53,460.34 L673.53,462.54 L674.59,460.90 L675.28,462.45 L675.00,460.97 L674.76,463.06 L676.48,461.55 L675.20,461.47 L677.07,462.32 L676.50,463.09 L677.75,463.95 L676.57,462.74 L677.80,464.11 L677.73,463.48 L677.32,464.97 L677.68,464.44 L677.94,466.36 L679.58,464.29 L679.86,464.68 L681.10,465.20 L680.13,466.06 L680.77,465.08 L681.63,467.04 L681.58,467.02 L681.70,467.89 L683.24,466.91 L682.59,467.82 L683.58,468.02 L683.17,466.70 L683.49,468.27 L684.12,467.34 L683.83,466.81 L684.09,469.83 L683.87,469.57 L685.22,468.36 L686.41,468.67 L685.34,470.89 L686.94,468.72 L686.39,470.98 L685.61,469.06 L687.31,471.24 L686.86,470.86 L687.23,470.58 L688.00,471.32 L687.68,471.62 L688.62,471.36 L687.88,473.81 L689.11,473.63 L688.30,472.32 L688.58,474.45 L688.72,472.61 L689.59,475.01 L689.64,472.88 L690.31,474.74 L691.36,473.94 L690.41,475.90 L690.63,475.08 L691.64,474.50 L692.00,475.57 L691.55,477.58 L691.90,476.23 L691.50,477.11 L692.32,477.17 L693.67,476.65 L693.20,478.71 L693.97,477.16 L694.55,478.39 L693.48,479.49 L694.49,480.10 L695.19,479.21 L694.09,479.43 L695.35,478.87 L694.66,479.86 L696.23,479.48 L696.68,480.47 L696.86,482.61 L697.40,480.90 L697.47,482.40 L696.63,483.55 L698.12,482.25 L696.71,482.29 L697.94,481.83 L699.04,482.94 L698.15,482.34 L698.87,484.75 L699.23,485.41 L700.17,485.82 L699.67,486.09 L699.79,485.00 L699.48,484.76 L700.26,485.78 L699.91,485.50 L700.82,487.40 L701.24,486.01 L702.54,486.36 L702.56,487.63 L702.45,487.74 L702.78,486.47 L702.74,488.07 L704.47,485.96 L703.38,486.12 L704.61,486.63 L704.52,487.01 L705.02,486.81 L705.87,486.41 L705.60,486.68 L707.24,489.14 L706.67,487.85 L705.78,487.36 L707.90,488.97 L707.05,488.02 L706.29,490.52 L707.00,490.26 L708.36,491.12 L708.45,491.86 L708.37,489.83 L707.80,491.61 L708.33,490.89 L708.38,491.91 L708.18,493.86 L708.18,493.92 L708.99,493.78 L709.24,493.25 L708.88,492.83 L709.00,494.02 L710.22,495.68 L710.41,495.39 L709.23,494.30 L711.33,494.36 L711.78,495.90 L710.80,495.72 L712.03,497.01 L711.53,496.66 L711.27,496.75 L712.93,498.72 L711.59,497.62 L712.53,499.24 L712.69,499.18 L713.64,497.49 L714.30,497.88 L713.31,498.38 L713.32,498.20 L713.31,500.45 L713.50,499.15 L714.72,499.17 L715.48,500.11 L715.22,501.79 L716.46,502.85 L716.31,501.30 L715.33,502.77 L715.27,503.35 L717.36,503.32 L717.18,503.56 L716.84,503.88 L717.03,502.54 L718.20,503.44 L718.79,505.45 L718.89,504.11 L717.31,506.12 L717.73,505.36 L718.72,504.26 L718.42,506.44 L719.32,505.59 L718.82,506.56 L718.85,505.74 L721.15,506.49 L720.92,506.39 L721.40,508.07 L719.99,508.84 L721.86,507.72 L722.17,508.97 L722.39,507.43 L722.54,508.83 L721.90,509.69 L721.46,509.82 L723.50,511.35 L723.28,510.79 L723.11,511.36 L723.80,510.18 L724.52,512.70 L723.39,512.35 L723.98,511.10 L725.63,512.07 L725.32,512.45 L724.81,512.07 L726.85,511.80 L726.50,513.93 L725.95,513.48 L725.88,511.69 L726.60,511.89 L727.73,514.99 L727.06,512.91 L727.24,512.51 L728.27,513.07 L728.39,513.34 L728.53,514.96 L730.22,513.70 L730.27,514.34 L730.62,514.70 L729.93,514.22 L730.19,517.13 L730.23,516.80 L730.88,515.56 L730.27,516.96 L731.30,517.51 L732.21,517.36 L731.68,519.29 L732.65,517.89 L732.32,519.59 L732.17,519.51 L732.87,520.19 L732.50,520.94 L733.89,518.91 L733.97,520.81 L734.11,521.64 L734.52,520.83 L733.84,521.89 L733.47,520.82 L734.22,521.29 L735.14,521.88 L735.30,524.05 L734.43,523.45 L735.81,523.83 L735.71,524.36 L736.33,524.24 L736.45,524.94 L737.65,525.35 L737.16,524.75 L737.48,525.56 L738.64,526.64 L738.41,525.50 L739.14,524.61 L737.58,526.44 L739.59,524.89 L739.39,527.49 L738.89,526.65 L740.57,527.17 L739.04,527.89 L739.35,526.95 L741.16,529.25 L740.51,529.76 L739.95,528.25 L740.76,528.40 L740.97,529.12 L742.27,530.47 L742.41,529.75 L741.47,529.81 L741.31,531.65 L743.43,529.81 L742.42,531.33 L743.65,532.55 L743.69,531.68 L744.08,531.28 L743.24,532.46 L742.79,531.59 L743.10,533.04 L745.17,534.18 L744.88,533.39 L744.81,534.60 L744.75,535.51 L744.28,535.99 L745.34,535.83 L745.00,534.66 L746.14,537.20 L746.14,536.13 L746.70,537.47 L747.63,535.87 L747.58,538.04 L747.64,537.90 L748.56,537.03 L747.14,538.48 L747.97,539.05 L749.21,537.09 L748.53,537.87 L749.02,537.76 L749.94,539.38 L750.36,540.91 L749.62,540.34 L749.54,541.43 L750.53,539.85 L750.82,540.29 L750.43,539.82 L751.10,539.81 L752.17,540.78 L751.12,541.14 L751.39,542.84 L752.35,543.52 L752.97,541.74 L752.41,544.62 L753.17,543.60 L754.36,545.10 L753.35,542.75 L753.68,545.30 L754.25,544.72 L753.40,543.54 L754.42,546.50 L755.02,545.46 L755.98,546.69 L755.69,545.00 L755.77,545.07 L755.89,547.82 L756.95,546.79 L757.33,548.08 L756.32,547.94 L756.95,548.70 L756.46,546.94 L757.81,550.13 L758.25,547.68 L757.00,550.19 L757.48,551.22 L758.84,550.11 L758.30,550.38 L759.11,550.69 L759.86,552.44 L759.93,552.89 L759.20,551.69 L760.62,553.32 L760.56,551.83 L759.24,552.30 L761.24,553.01 L761.29,553.53 L761.47,554.78 L761.93,553.49 L761.31,553.18 L761.27,553.51 L762.40,556.25 L762.09,556.91 L761.48,555.82 L763.27,556.05 L763.38,555.95 L763.49,556.18 L764.05,556.17 L762.42,556.28 L764.11,557.99 L763.55,558.73 L763.35,559.08 L763.75,558.25 L763.46,558.29 L764.73,558.58 L764.52,560.10 L764.73,560.45 L764.29,561.38 L766.37,561.60 L766.05,561.36 L765.24,562.90 L766.22,560.58 L766.50,562.80 L766.51,562.42 L767.67,562.68 L767.43,561.84 L768.04,562.25 L768.17,563.09 L768.05,563.60 L768.95,564.51 L768.24,564.73 L767.91,565.16 L768.33,566.81 L768.27,564.77 L769.95,566.81 L770.29,566.77 L770.36,566.00 L769.18,567.97 L769.84,566.28 L770.21,567.58 L769.90,568.81 L770.35,567.75 L770.80,567.80 L770.69,569.41 L771.86,568.38 L772.35,568.57 L771.30,570.42 L772.78,569.01 L772.82,569.37 L772.93,571.16 L773.24,570.54 L773.19,571.02 L773.43,573.34 L772.97,571.41 L774.35,572.43 L773.73,573.83 L773.89,573.57 L774.05,573.63 L774.39,575.19 L775.09,573.81 L774.36,573.87 L775.94,574.81 L775.15,574.92 L775.98,575.05 L776.08,575.32 L775.40,576.28 L777.05,576.13 L777.14,576.19 L776.88,576.19 L777.38,577.43 L776.65,576.71 L778.29,578.07 L778.40,578.67 L778.83,579.09 L778.84,578.29 L777.91,579.09 L778.48,580.11 L779.59,581.61 L778.62,581.28 L779.17,580.43 L779.01,580.99 L779.30,581.06 L779.26,581.63 L780.89,582.00 L780.54,583.60 L781.29,584.23 L780.03,582.53 L781.04,583.45 L780.44,585.34 L781.90,584.99 L782.07,584.32 L781.20,586.06 L782.03,585.92 L781.73,586.52 L781.73,586.62 L782.55,585.57 L782.71,586.64 L783.74,586.70 L783.12,587.52 L783.87,587.76 L784.10,587.70 L784.17,588.13 L783.90,589.01 L784.39,588.96 L784.49,589.29 L784.82,590.60 L784.83,591.67 L785.00,590.29 L785.15,590.51 L784.31,592.61 L785.46,591.12 L785.42,592.13 L785.96,593.48 L785.97,593.22 L786.02,594.39 L786.38,593.64 L786.51,594.11 L786.07,594.40 L785.69,594.06 L786.39,596.21 L786.61,596.16 L786.88,596.50 L786.79,595.70 L786.78,597.01 L786.85,597.96 L788.15,597.57 L787.37,598.25 L788.33,597.39 L787.71,598.33 L788.67,598.14 L788.37,598.31 L788.53,600.37 L788.43,600.55 L788.67,599.70 L789.54,601.02 L790.05,601.44 L789.35,601.70 L789.46,601.57 L790.09,602.53 L790.94,602.28 L790.78,603.56 L791.31,602.85 L790.70,604.00 L791.79,603.67 L791.93,604.94 L791.21,604.44 L791.44,605.48 L791.83,605.35 L791.99,606.12 L792.73,605.69 L793.08,606.62 L792.26,605.98 L792.85,607.25 L792.99,607.96 L793.19,606.95 L793.73,607.63 L793.98,608.88 L793.82,608.13 L794.45,608.64 L794.27,608.92 L793.96,610.16 L794.06,610.31 L794.41,609.86 L794.76,610.26 L795.45,611.52 L795.13,611.26 L795.12,612.26 L795.33,612.06 L795.48,613.20 L795.42,613.46 L795.73,613.16 L795.75,613.41 L796.56,614.02 L796.89,614.76 L796.37,614.64 L796.71,614.90 L797.17,615.10 L796.59,615.88 L797.12,616.36 L797.16,616.30 L797.97,617.31 L797.43,617.59 L797.65,617.19 L797.90,617.83 L797.92,618.48 L798.67,618.47 L798.64,619.85 L798.65,620.19 L798.70,620.31 L799.26,620.55 L799.41,620.94 L799.21,621.16 L799.88,621.74 L799.45,621.38 L799.72,621.45 L799.89,622.01 L800.18,622.34 L800.90,622.69 L800.34,622.92 L800.83,624.22 L800.98,624.36 L800.98,623.91 L801.19,625.22 L801.54,625.06 L801.83,625.60 L801.91,626.10 L802.63,626.17 L802.81,626.51 L802.95,626.40 L803.22,627.06 L802.95,627.68 L803.03,628.12 L803.52,628.28 L803.25,628.36 L803.47,629.31 L803.77,629.62 L804.13,629.54 L803.93,630.06 L804.46,630.85 L804.59,630.79 L804.62,631.01 L804.47,631.75 L804.65,631.99 L804.84,632.57 L805.10,632.78 L804.95,633.10 L805.46,633.58 L805.32,633.80 L805.41,634.61 L805.62,635.02 L805.94,634.93 L805.96,635.72 L805.96,635.73 L806.33,635.97 L806.33,636.75 L806.66,636.96 L806.79,637.45 L806.78,637.92 L807.08,638.31 L807.25,638.35 L807.31,638.71 L807.60,639.31 L807.75,639.57 L807.78,640.05 L808.09,640.09 L808.11,640.45 L808.29,640.84 L808.32,641.45 L808.57,641.72 L808.84,642.14 L808.81,642.50 L809.06,642.77 L809.29,643.08 L809.35,643.50 L809.54,643.84 L809.62,644.34 L809.81,644.64 L809.99,644.91 L810.19,645.38 L810.38,645.80 L810.56,646.13 L810.75,646.45 L810.91,646.83 L811.06,647.13 L811.23,647.53 L811.44,647.85 L811.61,648.21 L811.79,648.57 L811.96,648.93 L812.14,649.29 L812.32,649.64 L812.50,650.00 L812.68,650.36 L812.86,650.71 L813.04,651.07 L813.21,651.43 L813.39,651.79 L813.57,652.14 L813.75,652.50 L813.90,652.87 L814.04,653.24 L814.19,653.60 L814.34,653.97 L814.49,654.34 L814.63,654.71 L814.78,655.07 L814.93,655.44 L815.07,655.81 L815.22,656.18 L815.37,656.54 L815.51,656.91 L815.66,657.28 L815.81,657.65 L815.96,658.01 L816.10,658.38 L816.25,658.75 L816.40,659.12 L816.54,659.49 L816.69,659.85 L816.84,660.22 L816.99,660.59 L817.13,660.96 L817.28,661.32 L817.43,661.69 L817.57,662.06 L817.72,662.43 L817.87,662.79 L818.01,663.16 L818.16,663.53 L818.31,663.90 L818.46,664.26 L818.60,664.63 L818.75,665.00 L818.87,665.38 L818.99,665.77 L819.11,666.15 L819.23,666.54 L819.36,666.92 L819.48,667.31 L819.60,667.69 L819.72,668.08 L819.84,668.46 L819.96,668.85 L820.08,669.23 L820.20,669.62 L820.33,670.00 L820.45,670.38 L820.57,670.77 L820.69,671.15 L820.81,671.54 L820.93,671.92 L821.05,672.31 L821.17,672.69 L821.29,673.08 L821.42,673.46 L821.54,673.85 L821.66,674.23 L821.78,674.62 L821.90,675.00 L822.07,675.37 L822.23,675.73 L822.40,676.10 L822.57,676.46 L822.74,676.83 L822.90,677.20 L823.07,677.56 L823.24,677.93 L823.40,678.29 L823.57,678.66 L823.74,679.02 L823.90,679.39 L824.07,679.76 L824.24,680.12 L824.41,680.49 L824.57,680.85 L824.74,681.22 L824.91,681.59 L825.07,681.95 L825.24,682.32 L825.41,682.68 L825.58,683.05 L825.74,683.41 L825.91,683.78 L826.08,684.15 L826.24,684.51 L826.41,684.88 L826.58,685.24 L826.75,685.61 L826.91,685.98 L827.08,686.34 L827.25,686.71 L827.41,687.07 L827.58,687.44 L827.75,687.80 L827.91,688.17 L828.08,688.54 L828.25,688.90 L828.42,689.27 L828.58,689.63 L828.75,690.00 L828.90,690.37 L829.05,690.73 L829.21,691.10 L829.36,691.46 L829.51,691.83 L829.66,692.20 L829.82,692.56 L829.97,692.93 L830.12,693.29 L830.27,693.66 L830.43,694.02 L830.58,694.39 L830.73,694.76 L830.88,695.12 L831.04,695.49 L831.19,695.85 L831.34,696.22 L831.49,696.59 L831.65,696.95 L831.80,697.32 L831.95,697.68 L832.10,698.05 L832.26,698.41 L832.41,698.78 L832.56,699.15 L832.71,699.51 L832.87,699.88 L833.02,700.24 L833.17,700.61 L833.32,700.98 L833.48,701.34 L833.63,701.71 L833.78,702.07 L833.93,702.44 L834.09,702.80 L834.24,703.17 L834.39,703.54 L834.54,703.90 L834.70,704.27 L834.85,704.63 L835.00,705.00 L835.14,705.37 L835.27,705.74 L835.41,706.11 L835.54,706.49 L835.68,706.86 L835.81,707.23 L835.95,707.60 L836.08,707.97 L836.22,708.34 L836.35,708.72 L836.49,709.09 L836.62,709.46 L836.76,709.83 L836.89,710.20 L837.03,710.57 L837.16,710.95 L837.30,711.32 L837.43,711.69 L837.57,712.06 L837.70,712.43 L837.84,712.80 L837.97,713.18 L838.11,713.55 L838.24,713.92 L838.38,714.29 L838.51,714.66 L838.65,715.03 L838.78,715.41 L838.92,715.78 L839.05,716.15 L839.19,716.52 L839.32,716.89 L839.46,717.26 L839.59,717.64 L839.73,718.01 L839.86,718.38 L840.00,718.75 L840.12,719.12 L840.25,719.50 L840.38,719.88 L840.50,720.25 L840.62,720.62 L840.75,721.00 L840.88,721.38 L841.00,721.75 L841.12,722.12 L841.25,722.50 L841.38,722.88 L841.50,723.25 L841.62,723.62 L841.75,724.00 L841.88,724.38 L842.00,724.75 L842.12,725.12 L842.25,725.50 L842.38,725.88 L842.50,726.25 L842.62,726.62 L842.75,727.00 L842.88,727.38 L843.00,727.75 L843.12,728.12 L843.25,728.50 L843.38,728.88 L843.50,729.25 L843.62,729.62 L843.75,730.00 L843.88,730.38 L844.00,730.75 L844.12,731.12 L844.25,731.50 L844.38,731.88 L844.50,732.25 L844.62,732.62 L844.75,733.00 L844.88,733.38 L845.00,733.75 L845.13,734.13 L845.27,734.51 L845.40,734.89 L845.53,735.27 L845.67,735.64 L845.80,736.02 L845.93,736.40 L846.07,736.78 L846.20,737.16 L846.33,737.54 L846.47,737.92 L846.60,738.30 L846.73,738.67 L846.87,739.05 L847.00,739.43 L847.13,739.81 L847.27,740.19 L847.40,740.57 L847.53,740.95 L847.67,741.33 L847.80,741.70 L847.93,742.08 L848.07,742.46 L848.20,742.84 L848.33,743.22 L848.47,743.60 L848.60,743.98 L848.73,744.36 L848.87,744.73 L849.00,745.11 L849.13,745.49 L849.27,745.87 L849.40,746.25 L849.51,746.63 L849.63,747.02 L849.74,747.40 L849.86,747.78 L849.97,748.16 L850.09,748.55 L850.20,748.93 L850.31,749.31 L850.43,749.69 L850.54,750.08 L850.66,750.46 L850.77,750.84 L850.89,751.22 L851.00,751.61 L851.11,751.99 L851.23,752.37 L851.34,752.76 L851.46,753.14 L851.57,753.52 L851.69,753.90 L851.80,754.29 L851.91,754.67 L852.03,755.05 L852.14,755.43 L852.26,755.82 L852.37,756.20 L852.49,756.58 L852.60,756.96 L852.71,757.35 L852.83,757.73 L852.94,758.11 L853.06,758.49 L853.17,758.88 L853.29,759.26 L853.40,759.64 L853.51,760.03 L853.63,760.41 L853.74,760.79 L853.86,761.17 L853.97,761.56 L854.09,761.94 L854.20,762.32 L854.31,762.70 L854.43,763.09 L854.54,763.47 L854.66,763.85 L854.77,764.23 L854.89,764.62 L855.00,765.00 L855.11,765.39 L855.23,765.77 L855.34,766.16 L855.45,766.55 L855.57,766.93 L855.68,767.32 L855.80,767.70 L855.91,768.09 L856.02,768.48 L856.14,768.86 L856.25,769.25 L856.36,769.64 L856.48,770.02 L856.59,770.41 L856.70,770.80 L856.82,771.18 L856.93,771.57 L857.05,771.95 L857.16,772.34 L857.27,772.73 L857.39,773.11 L857.50,773.50 L857.61,773.89 L857.73,774.27 L857.84,774.66 L857.95,775.05 L858.07,775.43 L858.18,775.82 L858.30,776.20 L858.41,776.59 L858.52,776.98 L858.64,777.36 L858.75,777.75 L858.86,778.14 L858.98,778.52 L859.09,778.91 L859.20,779.30 L859.32,779.68 L859.43,780.07 L859.55,780.45 L859.66,780.84 L859.77,781.23 L859.89,781.61 L860.00,782.00 L860.11,782.39 L860.23,782.77 L860.34,783.16 L860.45,783.55 L860.57,783.93 L860.68,784.32 L860.80,784.70 L860.91,785.09 L861.02,785.48 L861.14,785.86 L861.25,786.25 L861.36,786.63 L861.47,787.01 L861.58,787.39 L861.68,787.77 L861.79,788.15 L861.90,788.53 L862.01,788.91 L862.12,789.29 L862.23,789.67 L862.34,790.05 L862.45,790.43 L862.55,790.82 L862.66,791.20 L862.77,791.58 L862.88,791.96 L862.99,792.34 L863.10,792.72 L863.21,793.10 L863.32,793.48 L863.42,793.86 L863.53,794.24 L863.64,794.62 L863.75,795.00 L863.86,795.38 L863.97,795.76 L864.08,796.14 L864.18,796.52 L864.29,796.90 L864.40,797.28 L864.51,797.66 L864.62,798.04 L864.73,798.42 L864.84,798.80 L864.95,799.18 L865.05,799.57 L865.16,799.95 L865.27,800.33 L865.38,800.71 L865.49,801.09 L865.60,801.47 L865.71,801.85 L865.82,802.23 L865.92,802.61 L866.03,802.99 L866.14,803.37 L866.25,803.75 L866.36,804.13 L866.48,804.51 L866.59,804.90 L866.70,805.28 L866.81,805.66 L866.93,806.04 L867.04,806.43 L867.15,806.81 L867.27,807.19 L867.38,807.57 L867.49,807.95 L867.60,808.34 L867.72,808.72 L867.83,809.10 L867.94,809.48 L868.06,809.87 L868.17,810.25 L868.28,810.63 L868.40,811.01 L868.51,811.40 L868.62,811.78 L868.73,812.16 L868.85,812.54 L868.96,812.92 L869.07,813.31 L869.19,813.69 L869.30,814.07 L869.41,814.45 L869.52,814.84 L869.64,815.22 L869.75,815.60" stroke="#001c7f" stroke-width="4.17" stroke-linecap="round"/>
<path d="M268.00,172.50 L268.56,172.67 L269.12,172.84 L269.68,173.02 L270.24,173.19 L270.81,173.36 L271.37,173.53 L271.93,173.71 L272.49,173.88 L273.05,174.05 L273.61,174.22 L274.17,174.39 L274.73,174.57 L275.29,174.74 L275.86,174.91 L276.42,175.08 L276.98,175.26 L277.54,175.43 L278.10,175.60 L278.68,175.76 L279.26,175.93 L279.85,176.09 L280.43,176.26 L281.01,176.42 L281.59,176.59 L282.18,176.75 L282.76,176.91 L283.34,177.08 L283.92,177.24 L284.50,177.41 L285.09,177.57 L285.67,177.74 L286.25,177.90 L286.83,178.07 L287.41,178.24 L288.00,178.40 L288.58,178.57 L289.16,178.74 L289.74,178.91 L290.32,179.07 L290.91,179.24 L291.49,179.41 L292.07,179.58 L292.65,179.75 L293.24,179.91 L293.82,180.08 L294.40,180.25 L294.96,180.41 L295.52,180.57 L296.08,180.73 L296.64,180.89 L297.20,181.05 L297.76,181.21 L298.32,181.38 L298.89,181.54 L299.45,181.70 L300.01,181.86 L300.57,182.02 L301.13,182.18 L301.69,182.34 L302.25,182.50 L302.82,182.66 L303.39,182.82 L303.96,182.98 L304.54,183.14 L305.11,183.30 L305.68,183.46 L306.25,183.62 L306.82,183.79 L307.39,183.95 L307.96,184.11 L308.54,184.27 L309.11,184.43 L309.68,184.59 L310.25,184.75 L310.86,184.70 L311.46,184.66 L312.07,184.61 L312.68,184.56 L313.29,184.52 L313.89,184.47 L314.50,184.43 L315.11,184.38 L315.71,184.33 L316.32,184.29 L316.93,184.24 L317.54,184.19 L318.14,184.15 L318.75,184.10 L319.35,184.06 L319.94,184.01 L320.54,183.97 L321.14,183.93 L321.73,183.89 L322.33,183.84 L322.93,183.80 L323.52,183.76 L324.12,183.71 L324.71,183.67 L325.31,183.63 L325.91,183.59 L326.50,183.54 L327.10,183.50 L327.71,183.54 L328.32,183.58 L328.92,183.62 L329.53,183.65 L330.14,183.69 L330.75,183.73 L331.35,183.77 L331.96,183.81 L332.57,183.85 L333.18,183.88 L333.78,183.92 L334.39,183.96 L335.00,184.00 L335.54,184.25 L336.07,184.50 L336.61,184.75 L337.14,185.00 L337.68,185.25 L338.21,185.50 L338.75,185.75 L339.29,186.00 L339.82,186.25 L340.36,186.50 L340.89,186.75 L341.43,187.00 L341.96,187.25 L342.50,187.50 L343.08,187.71 L343.65,187.92 L344.23,188.13 L344.81,188.35 L345.38,188.56 L345.96,188.77 L346.54,188.98 L347.12,189.19 L347.69,189.40 L348.27,189.62 L348.85,189.83 L349.42,190.04 L350.00,190.25 L350.58,190.03 L351.16,189.80 L351.74,189.57 L352.31,189.35 L352.89,189.12 L353.47,188.90 L354.05,188.68 L354.63,188.45 L355.21,188.22 L355.79,188.00 L356.36,187.78 L356.94,187.55 L357.52,187.32 L358.10,187.10 L358.68,187.17 L359.26,187.24 L359.85,187.31 L360.43,187.39 L361.01,187.46 L361.59,187.53 L362.18,187.60 L362.76,187.67 L363.34,187.74 L363.92,187.81 L364.50,187.89 L365.09,187.96 L365.67,188.03 L366.25,188.10 L366.75,188.46 L367.25,188.82 L367.75,189.17 L368.25,189.53 L368.75,189.89 L369.25,190.25 L369.75,190.60 L370.25,190.96 L370.75,191.32 L371.25,191.68 L371.75,192.03 L372.25,192.39 L372.75,192.75 L373.13,193.20 L373.51,193.64 L373.90,194.09 L374.28,194.54 L374.66,194.98 L375.04,195.43 L375.43,195.88 L375.81,196.32 L376.19,196.77 L376.57,197.21 L376.95,197.66 L377.34,198.11 L377.72,198.55 L378.10,199.00 L378.58,199.36 L379.05,199.73 L379.53,200.09 L380.00,200.46 L380.48,200.82 L380.95,201.19 L381.43,201.55 L381.90,201.91 L382.38,202.28 L382.85,202.64 L383.32,203.01 L383.80,203.37 L384.27,203.74 L384.75,204.10 L385.15,204.54 L385.56,204.98 L385.96,205.42 L386.36,205.86 L386.77,206.30 L387.17,206.74 L387.57,207.18 L387.98,207.61 L388.38,208.05 L388.79,208.49 L389.19,208.93 L389.59,209.37 L390.00,209.81 L390.40,210.25 L390.75,210.72 L391.09,211.20 L391.44,211.68 L391.79,212.15 L392.13,212.62 L392.48,213.10 L392.82,213.57 L393.17,214.05 L393.52,214.53 L393.86,215.00 L394.21,215.47 L394.56,215.95 L394.90,216.43 L395.25,216.90 L395.48,217.46 L395.71,218.02 L395.95,218.58 L396.18,219.14 L396.41,219.70 L396.64,220.26 L396.88,220.82 L397.11,221.39 L397.34,221.95 L397.57,222.51 L397.80,223.07 L398.04,223.63 L398.27,224.19 L398.50,224.75 L398.72,225.30 L398.94,225.86 L399.16,226.41 L399.39,226.96 L399.61,227.52 L399.83,228.07 L400.05,228.62 L400.27,229.18 L400.49,229.73 L400.71,230.29 L400.94,230.84 L401.16,231.39 L401.38,231.95 L401.60,232.50 L401.86,233.03 L402.12,233.56 L402.38,234.09 L402.65,234.62 L402.91,235.15 L403.17,235.68 L403.43,236.22 L403.69,236.75 L403.95,237.28 L404.22,237.81 L404.48,238.34 L404.74,238.87 L405.00,239.40 L405.23,239.94 L405.45,240.48 L405.68,241.02 L405.91,241.56 L406.13,242.10 L406.36,242.64 L406.59,243.18 L406.81,243.72 L407.04,244.26 L407.27,244.80 L407.49,245.34 L407.72,245.88 L407.95,246.42 L408.17,246.96 L408.40,247.50 L408.67,248.04 L408.95,248.57 L409.22,249.11 L409.50,249.64 L409.77,250.18 L410.05,250.71 L410.32,251.25 L410.60,251.79 L410.88,252.32 L411.15,252.86 L411.43,253.39 L411.70,253.93 L411.98,254.46 L412.25,255.00 L412.54,255.54 L412.82,256.07 L413.11,256.61 L413.39,257.14 L413.68,257.68 L413.96,258.21 L414.25,258.75 L414.54,259.29 L414.82,259.82 L415.11,260.36 L415.39,260.89 L415.68,261.43 L415.96,261.96 L416.25,262.50 L416.54,263.02 L416.82,263.54 L417.11,264.05 L417.39,264.57 L417.68,265.09 L417.96,265.61 L418.25,266.12 L418.54,266.64 L418.82,267.16 L419.11,267.68 L419.39,268.20 L419.68,268.71 L419.96,269.23 L420.25,269.75 L420.71,270.15 L421.17,270.56 L421.63,270.96 L422.10,271.37 L422.56,271.77 L423.02,272.17 L423.48,272.58 L423.94,272.98 L424.40,273.38 L424.87,273.79 L425.33,274.19 L425.79,274.60 L426.25,275.00 L426.74,275.31 L427.23,275.63 L427.72,275.94 L428.21,276.26 L428.70,276.57 L429.19,276.89 L429.68,277.20 L430.16,277.51 L430.65,277.83 L431.14,278.14 L431.63,278.46 L432.12,278.77 L432.61,279.09 L433.10,279.40 L433.66,279.56 L434.23,279.71 L434.79,279.87 L435.36,280.03 L435.92,280.19 L436.49,280.34 L437.05,280.50 L437.61,280.66 L438.18,280.81 L438.74,280.97 L439.31,281.13 L439.87,281.29 L440.44,281.44 L441.00,281.60 L441.60,281.66 L442.20,281.73 L442.80,281.79 L443.40,281.86 L444.00,281.92 L444.60,281.99 L445.20,282.05 L445.80,282.11 L446.40,282.18 L447.00,282.24 L447.60,282.31 L448.20,282.37 L448.80,282.44 L449.40,282.50 L449.98,282.48 L450.56,282.46 L451.14,282.45 L451.71,282.43 L452.29,282.41 L452.87,282.39 L453.45,282.38 L454.03,282.36 L454.61,282.34 L455.19,282.32 L455.76,282.30 L456.34,282.29 L456.92,282.27 L457.50,282.25 L458.02,282.54 L458.54,282.82 L459.05,283.11 L459.57,283.39 L460.09,283.68 L460.61,283.96 L461.12,284.25 L461.64,284.54 L462.16,284.82 L462.68,285.11 L463.20,285.39 L463.71,285.68 L464.23,285.96 L464.75,286.25 L465.30,286.49 L465.86,286.73 L466.41,286.97 L466.96,287.21 L467.52,287.45 L468.07,287.69 L468.62,287.93 L469.18,288.16 L469.73,288.40 L470.29,288.64 L470.84,288.88 L471.39,289.12 L471.95,289.36 L472.50,289.60 L473.10,289.46 L473.69,289.32 L474.29,289.17 L474.88,289.03 L475.48,288.89 L476.08,288.75 L476.67,288.60 L477.27,288.46 L477.87,288.32 L478.46,288.18 L479.06,288.03 L479.65,287.89 L480.25,287.75 L480.79,288.02 L481.33,288.29 L481.87,288.56 L482.40,288.83 L482.94,289.10 L483.48,289.37 L484.02,289.63 L484.56,289.90 L485.10,290.17 L485.63,290.44 L486.17,290.71 L486.71,290.98 L487.25,291.25 L487.77,291.50 L488.30,291.75 L488.82,292.00 L489.35,292.25 L489.88,292.50 L490.40,292.75 L490.93,293.00 L491.45,293.25 L491.98,293.50 L492.50,293.75 L493.03,294.00 L493.55,294.25 L494.08,294.50 L494.60,294.75 L495.12,295.04 L495.64,295.32 L496.16,295.61 L496.69,295.89 L497.21,296.18 L497.73,296.46 L498.25,296.75 L498.77,297.04 L499.29,297.32 L499.81,297.61 L500.34,297.89 L500.86,298.18 L501.38,298.46 L501.90,298.75 L502.41,299.06 L502.91,299.37 L503.42,299.68 L503.93,299.99 L504.44,300.30 L504.94,300.61 L505.45,300.93 L505.96,301.24 L506.46,301.55 L506.97,301.86 L507.48,302.17 L507.99,302.48 L508.49,302.79 L509.00,303.10 L509.50,303.43 L510.00,303.76 L510.50,304.10 L511.00,304.43 L511.50,304.76 L512.00,305.09 L512.50,305.43 L513.00,305.76 L513.50,306.09 L514.00,306.42 L514.50,306.75 L515.00,307.09 L515.50,307.42 L516.00,307.75 L516.50,308.08 L517.00,308.42 L517.50,308.75 L518.00,309.09 L518.50,309.42 L519.00,309.76 L519.50,310.09 L520.00,310.43 L520.50,310.77 L521.00,311.12 L521.50,311.47 L522.00,311.84 L522.50,312.15 L523.12,312.25 L523.75,312.04 L524.38,312.21 L525.00,312.44 L525.62,312.37 L526.25,312.54 L526.88,312.17 L527.50,312.40 L528.12,312.30 L528.75,312.53 L529.15,312.98 L529.56,312.97 L529.96,313.54 L530.36,314.01 L530.77,314.94 L531.17,315.24 L531.58,315.18 L531.98,316.11 L532.38,316.00 L532.79,316.81 L533.19,316.84 L533.59,317.16 L534.00,318.28 L534.40,318.17 L534.97,318.35 L535.54,319.16 L536.11,319.25 L536.68,318.96 L537.25,319.69 L537.83,319.53 L538.40,319.83 L538.97,319.63 L539.54,320.41 L540.11,320.39 L540.68,320.80 L541.25,320.92 L541.56,320.97 L541.87,321.56 L542.18,321.93 L542.49,322.45 L542.80,322.92 L543.11,323.65 L543.42,324.43 L543.74,324.48 L544.05,325.57 L544.36,325.82 L544.67,326.34 L544.98,327.29 L545.29,327.55 L545.60,327.95 L546.08,328.42 L546.57,328.94 L547.05,328.75 L547.54,329.84 L548.02,329.40 L548.51,330.34 L548.99,330.75 L549.48,330.41 L549.96,331.38 L550.45,331.37 L550.93,331.89 L551.42,331.76 L551.90,332.12 L552.47,332.36 L553.04,333.13 L553.61,332.62 L554.18,333.21 L554.75,333.48 L555.33,333.62 L555.90,333.25 L556.47,333.38 L557.04,333.65 L557.61,333.98 L558.18,333.55 L558.75,334.21 L559.11,334.73 L559.48,335.26 L559.84,335.05 L560.20,336.29 L560.56,336.05 L560.92,336.74 L561.29,337.45 L561.65,338.18 L562.01,338.18 L562.38,339.15 L562.74,339.31 L563.10,339.59 L563.59,339.97 L564.09,340.23 L564.58,340.52 L565.07,340.95 L565.56,341.78 L566.06,342.42 L566.55,342.09 L567.04,342.37 L567.54,343.54 L568.03,343.53 L568.52,343.80 L569.01,344.03 L569.51,344.70 L570.00,345.28 L570.37,345.46 L570.73,345.93 L571.10,346.12 L571.47,347.35 L571.83,347.10 L572.20,347.99 L572.57,348.79 L572.93,348.68 L573.30,349.70 L573.67,350.38 L574.03,350.61 L574.40,351.25 L574.85,351.10 L575.29,351.82 L575.74,352.01 L576.18,353.05 L576.63,353.01 L577.08,353.58 L577.52,354.49 L577.97,354.80 L578.41,355.35 L578.86,355.33 L579.30,355.80 L579.75,356.45 L580.13,356.67 L580.52,356.94 L580.90,357.47 L581.29,357.68 L581.67,358.32 L582.06,359.28 L582.44,359.69 L582.83,359.84 L583.21,360.16 L583.60,360.46 L583.98,360.67 L584.37,361.27 L584.75,362.14 L585.34,362.30 L585.92,361.95 L586.50,362.40 L587.09,362.48 L587.67,362.49 L588.26,362.55 L588.85,362.72 L589.43,362.46 L590.01,362.84 L590.60,362.56 L591.23,362.84 L591.86,363.20 L592.49,363.24 L593.11,363.00 L593.74,363.68 L594.37,363.52 L595.00,363.57 L595.16,363.66 L595.32,364.72 L595.48,365.06 L595.63,366.02 L595.79,366.43 L595.95,367.33 L596.11,367.77 L596.27,368.50 L596.42,368.69 L596.58,369.54 L596.74,370.22 L596.90,370.89 L597.46,370.66 L598.02,371.28 L598.58,371.50 L599.14,371.53 L599.70,371.97 L600.26,372.15 L600.82,371.95 L601.38,372.15 L601.94,372.01 L602.50,372.80 L603.01,373.23 L603.52,373.16 L604.03,373.69 L604.54,374.06 L605.05,374.41 L605.55,374.25 L606.06,375.14 L606.57,375.30 L607.08,375.72 L607.59,375.84 L608.10,376.36 L608.53,376.92 L608.96,377.23 L609.39,377.73 L609.83,377.54 L610.26,378.08 L610.69,378.77 L611.12,379.38 L611.55,379.42 L611.98,380.27 L612.41,380.65 L612.84,380.55 L613.27,381.36 L613.71,381.57 L614.14,381.84 L614.57,382.34 L615.00,382.93 L615.31,383.34 L615.62,383.87 L615.94,384.25 L616.25,385.17 L616.56,385.62 L616.88,386.35 L617.19,386.86 L617.50,387.06 L617.81,388.19 L618.12,387.90 L618.44,388.79 L618.75,389.20 L619.31,389.45 L619.86,389.32 L620.42,390.10 L620.97,389.82 L621.53,389.64 L622.08,390.30 L622.64,389.96 L623.19,390.51 L623.75,390.45 L624.31,390.95 L624.86,391.58 L625.42,391.73 L625.97,391.64 L626.53,392.28 L627.08,392.40 L627.64,392.42 L628.19,392.49 L628.75,393.19 L629.32,393.30 L629.89,393.80 L630.46,393.95 L631.03,393.75 L631.60,393.65 L632.17,394.29 L632.75,393.60 L633.32,393.84 L633.89,394.40 L634.46,394.58 L635.03,394.28 L635.60,394.87 L635.35,395.66 L635.10,395.73 L634.85,396.34 L634.60,396.70 L634.35,397.31 L634.10,398.49 L633.85,398.49 L633.60,399.58 L633.35,400.08 L633.10,400.34 L633.60,400.31 L634.10,401.27 L634.60,401.10 L635.10,401.31 L635.60,401.51 L636.10,402.41 L636.60,402.24 L637.10,402.33 L637.60,402.79 L638.10,402.75 L638.65,403.45 L639.20,403.52 L639.75,403.62 L640.30,404.31 L640.85,404.59 L641.40,404.07 L641.95,404.79 L642.50,404.79 L642.90,405.83 L643.30,406.11 L643.70,406.02 L644.10,406.47 L644.50,406.78 L644.90,407.99 L645.30,407.75 L645.70,408.47 L646.10,408.77 L646.50,409.35 L646.90,409.73 L647.30,410.29 L647.70,410.12 L648.10,411.15 L648.58,411.03 L649.07,411.56 L649.55,411.69 L650.04,411.97 L650.52,412.51 L651.01,412.76 L651.49,412.98 L651.98,413.66 L652.46,413.83 L652.95,413.61 L653.43,414.13 L653.92,414.64 L654.40,415.40 L654.88,415.74 L655.35,415.77 L655.83,415.63 L656.31,416.73 L656.78,416.76 L657.26,417.26 L657.74,417.76 L658.22,418.05 L658.69,418.27 L659.17,419.05 L659.65,418.91 L660.12,419.28 L660.60,420.09 L660.21,419.88 L659.83,420.39 L659.44,421.32 L659.05,421.01 L658.66,422.17 L658.27,422.45 L657.89,422.62 L657.50,422.90 L658.08,423.54 L658.67,423.83 L659.25,423.26 L659.83,423.75 L660.42,423.98 L661.00,424.10 L661.58,424.10 L662.17,424.10 L662.75,424.68 L663.33,425.07 L663.92,424.52 L664.50,424.84 L665.08,425.58 L665.67,425.72 L666.25,425.76 L666.62,425.59 L667.00,426.72 L667.38,427.42 L667.75,427.88 L668.12,428.05 L668.50,427.86 L668.88,429.08 L669.25,428.93 L669.62,429.79 L670.00,430.54 L670.38,430.76 L670.75,430.64 L671.12,431.25 L671.50,432.31 L672.05,431.78 L672.59,432.46 L673.14,432.50 L673.68,432.48 L674.23,433.16 L674.77,432.82 L675.32,433.11 L675.86,433.60 L676.41,433.52 L676.95,433.74 L677.50,434.47 L677.74,435.21 L677.98,435.91 L678.23,435.75 L678.47,436.62 L678.71,437.07 L678.95,437.92 L679.19,438.39 L679.43,439.40 L679.67,439.41 L679.92,439.67 L680.16,440.87 L680.40,440.91 L680.90,441.71 L681.40,441.93 L681.90,442.66 L682.40,442.64 L682.90,443.04 L683.40,443.02 L683.90,443.64 L684.40,443.68 L684.90,444.51 L685.40,444.61 L685.90,444.57 L686.40,445.00 L686.90,445.47 L687.45,446.02 L688.00,445.64 L688.55,446.35 L689.10,446.47 L689.65,446.08 L690.20,446.84 L690.75,446.43 L691.30,446.63 L691.85,447.32 L692.40,447.10 L692.95,448.01 L693.50,447.73 L693.13,448.03 L692.75,449.06 L692.38,448.68 L692.01,449.95 L691.64,449.69 L691.26,450.29 L690.89,451.63 L690.52,451.83 L690.15,451.85 L689.77,452.23 L689.40,453.57 L689.98,453.24 L690.57,453.39 L691.15,452.65 L691.74,453.15 L692.32,452.83 L692.91,452.66 L693.49,452.75 L694.08,453.06 L694.66,452.71 L695.24,452.73 L695.83,452.38 L696.41,453.29 L697.00,453.02 L697.58,453.23 L698.17,452.67 L698.75,453.27 L699.02,453.29 L699.29,453.93 L699.55,454.42 L699.82,455.19 L700.09,455.18 L700.36,455.22 L700.62,455.63 L700.89,456.41 L701.16,456.66 L701.43,458.57 L701.70,458.41 L701.96,459.40 L702.23,458.64 L702.50,459.95 L703.07,460.75 L703.64,460.35 L704.21,460.09 L704.79,460.22 L705.36,459.61 L705.93,459.78 L706.50,459.84 L706.90,460.68 L707.29,461.12 L707.69,462.53 L708.08,461.50 L708.48,462.12 L708.88,462.59 L709.27,462.77 L709.67,463.45 L710.06,463.76 L710.46,464.71 L710.85,464.16 L711.25,466.53 L711.82,465.57 L712.39,467.11 L712.95,466.82 L713.52,467.06 L714.09,466.85 L714.66,468.24 L715.23,466.52 L715.80,468.13 L716.36,467.45 L716.93,468.69 L717.50,469.10 L718.00,467.87 L718.50,468.24 L719.00,468.01 L719.50,468.84 L720.00,468.67 L720.50,469.86 L721.00,471.82 L721.50,470.29 L722.00,470.40 L722.50,471.15 L722.88,471.07 L723.25,472.98 L723.62,473.44 L724.00,472.17 L724.38,472.91 L724.75,474.82 L725.12,476.21 L725.50,475.74 L725.88,475.51 L726.25,477.87 L726.79,474.39 L727.32,474.40 L727.86,476.66 L728.39,475.23 L728.93,473.81 L729.46,475.34 L730.00,476.66 L730.42,475.48 L730.83,475.32 L731.25,474.87 L731.67,475.21 L732.08,478.44 L732.50,477.47 L732.92,479.40 L733.33,476.82 L733.75,477.88 L734.17,477.64 L734.58,479.23 L735.00,478.50 L735.42,479.59 L735.83,480.52 L736.25,480.59 L736.82,479.95 L737.39,480.13 L737.95,483.54 L738.52,481.07 L739.09,482.42 L739.66,482.28 L740.23,482.95 L740.80,481.66 L741.36,482.66 L741.93,482.19 L742.50,483.89 L742.92,485.60 L743.33,484.92 L743.75,486.21 L744.17,484.45 L744.58,484.19 L745.00,486.38 L745.42,486.62 L745.83,487.33 L746.25,487.08 L746.75,488.30 L747.25,489.02 L747.75,490.03 L748.25,488.35 L748.75,489.20 L749.25,490.86 L749.75,489.19 L750.25,489.19 L750.75,490.23 L751.25,489.85 L751.75,492.55 L752.25,493.09 L752.75,491.74 L753.25,491.49 L753.75,491.70 L754.25,492.63 L754.75,492.46 L755.25,494.01 L755.75,494.89 L756.25,494.13 L756.81,493.37 L757.36,495.40 L757.92,493.05 L758.47,493.42 L759.03,493.58 L759.58,493.74 L760.14,492.66 L760.69,493.62 L761.25,493.12 L761.63,495.09 L762.02,494.90 L762.40,496.54 L762.79,496.20 L763.17,497.04 L763.56,496.89 L763.94,496.92 L764.33,498.67 L764.71,498.61 L765.10,500.10 L765.48,499.81 L765.87,500.20 L766.25,499.21 L766.82,501.17 L767.39,499.83 L767.95,499.08 L768.52,498.98 L769.09,499.44 L769.66,499.87 L770.23,501.39 L770.80,500.18 L771.36,499.54 L771.93,502.03 L772.50,501.44 L772.50,500.27 L772.50,500.97 L772.50,501.87 L772.50,503.26 L772.50,505.60 L772.50,506.53 L772.50,506.01 L772.50,505.34 L773.12,506.01 L773.75,505.78 L774.38,505.67 L775.00,504.59 L775.62,506.54 L776.25,507.36 L776.88,507.02 L777.50,504.87 L778.12,506.35 L778.75,505.13 L779.13,507.44 L779.52,507.03 L779.90,509.18 L780.29,509.18" stroke="#8bb5ae" stroke-width="4.17" stroke-dasharray="4.17 4.17"/>
<path d="M901.90,797.50 L901.76,796.90 L901.63,796.30 L901.49,795.70 L901.35,795.10 L901.22,794.50 L901.08,793.90 L900.95,793.30 L900.81,792.70 L900.67,792.10 L900.54,791.50 L900.40,790.90 L900.26,790.32 L900.13,789.74 L899.99,789.15 L899.86,788.57 L899.72,787.99 L899.59,787.41 L899.45,786.83 L899.31,786.24 L899.18,785.66 L899.04,785.08 L898.91,784.50 L898.77,783.91 L898.64,783.33 L898.50,782.75 L898.36,782.17 L898.23,781.59 L898.09,781.00 L897.96,780.42 L897.82,779.84 L897.69,779.26 L897.55,778.67 L897.41,778.09 L897.28,777.51 L897.14,776.93 L897.01,776.35 L896.87,775.76 L896.74,775.18 L896.60,774.60 L896.47,774.02 L896.34,773.44 L896.20,772.86 L896.07,772.29 L895.94,771.71 L895.81,771.13 L895.67,770.55 L895.54,769.97 L895.41,769.39 L895.28,768.81 L895.15,768.24 L895.01,767.66 L894.88,767.08 L894.75,766.50 L894.62,765.93 L894.49,765.36 L894.35,764.79 L894.22,764.21 L894.09,763.64 L893.96,763.07 L893.83,762.50 L893.69,761.93 L893.56,761.36 L893.43,760.79 L893.30,760.21 L893.16,759.64 L893.03,759.07 L892.90,758.50 L892.76,757.91 L892.63,757.32 L892.49,756.73 L892.36,756.14 L892.22,755.55 L892.09,754.96 L891.95,754.38 L891.81,753.79 L891.68,753.20 L891.54,752.61 L891.41,752.02 L891.27,751.43 L891.14,750.84 L891.00,750.25 L890.86,749.67 L890.71,749.09 L890.57,748.50 L890.43,747.92 L890.29,747.34 L890.14,746.76 L890.00,746.17 L889.86,745.59 L889.71,745.01 L889.57,744.43 L889.43,743.85 L889.29,743.26 L889.14,742.68 L889.00,742.10 L888.86,741.52 L888.73,740.94 L888.59,740.36 L888.46,739.79 L888.32,739.21 L888.19,738.63 L888.05,738.05 L887.91,737.47 L887.78,736.89 L887.64,736.31 L887.51,735.74 L887.37,735.16 L887.24,734.58 L887.10,734.00 L886.95,733.42 L886.80,732.84 L886.65,732.26 L886.50,731.69 L886.35,731.11 L886.20,730.53 L886.05,729.95 L885.90,729.37 L885.75,728.79 L885.60,728.21 L885.45,727.64 L885.30,727.06 L885.15,726.48 L885.00,725.90 L884.86,725.33 L884.73,724.76 L884.59,724.19 L884.46,723.61 L884.32,723.04 L884.19,722.47 L884.05,721.90 L883.91,721.33 L883.78,720.76 L883.64,720.19 L883.51,719.61 L883.37,719.04 L883.24,718.47 L883.10,717.90 L882.97,717.31 L882.84,716.71 L882.70,716.12 L882.57,715.53 L882.44,714.94 L882.31,714.34 L882.17,713.75 L882.04,713.16 L881.91,712.56 L881.78,711.97 L881.65,711.38 L881.51,710.79 L881.38,710.19 L881.25,709.60 L881.12,709.03 L880.99,708.46 L880.85,707.89 L880.72,707.31 L880.59,706.74 L880.46,706.17 L880.33,705.60 L880.19,705.03 L880.06,704.46 L879.93,703.89 L879.80,703.31 L879.66,702.74 L879.53,702.17 L879.40,701.60 L879.29,701.01 L879.19,700.43 L879.08,699.84 L878.97,699.26 L878.86,698.67 L878.76,698.09 L878.65,697.50 L878.54,696.91 L878.44,696.33 L878.33,695.74 L878.22,695.16 L878.11,694.57 L878.01,693.99 L877.90,693.40 L877.78,692.82 L877.66,692.24 L877.55,691.65 L877.43,691.07 L877.31,690.49 L877.19,689.91 L877.08,689.33 L876.96,688.74 L876.84,688.16 L876.72,687.58 L876.60,687.00 L876.49,686.41 L876.37,685.83 L876.25,685.25 L876.14,684.67 L876.04,684.09 L875.93,683.50 L875.82,682.92 L875.71,682.34 L875.61,681.76 L875.50,681.17 L875.39,680.59 L875.29,680.01 L875.18,679.43 L875.07,678.85 L874.96,678.26 L874.86,677.68 L874.75,677.10 L874.62,676.52 L874.49,675.94 L874.35,675.36 L874.22,674.79 L874.09,674.21 L873.96,673.63 L873.83,673.05 L873.69,672.47 L873.56,671.89 L873.43,671.31 L873.30,670.74 L873.16,670.16 L873.03,669.58 L872.90,669.00 L872.76,668.42 L872.63,667.84 L872.49,667.26 L872.36,666.69 L872.22,666.11 L872.09,665.53 L871.95,664.95 L871.81,664.37 L871.68,663.79 L871.54,663.21 L871.41,662.64 L871.27,662.06 L871.14,661.48 L871.00,660.90 L870.91,660.32 L870.82,659.74 L870.73,659.15 L870.64,658.57 L870.55,657.99 L870.46,657.41 L870.38,656.83 L870.29,656.24 L870.20,655.66 L870.11,655.08 L870.02,654.50 L869.93,653.91 L869.84,653.33 L869.75,652.75 L869.68,652.15 L869.61,651.56 L869.54,650.96 L869.46,650.36 L869.39,649.77 L869.32,649.17 L869.25,648.58 L869.18,647.98 L869.11,647.38 L869.04,646.79 L868.96,646.19 L868.89,645.59 L868.82,645.00 L868.75,644.40 L868.64,643.82 L868.54,643.24 L868.43,642.65 L868.32,642.07 L868.21,641.49 L868.11,640.91 L868.00,640.33 L867.89,639.74 L867.79,639.16 L867.68,638.58 L867.57,638.00 L867.46,637.41 L867.36,636.83 L867.25,636.25 L867.03,635.67 L866.81,635.10 L866.59,634.52 L866.37,633.94 L866.15,633.37 L865.93,632.79 L865.72,632.21 L865.50,631.63 L865.28,631.06 L865.06,630.48 L864.84,629.90 L864.62,629.33 L864.40,628.75 L864.13,628.21 L863.86,627.68 L863.59,627.14 L863.31,626.61 L863.04,626.07 L862.77,625.54 L862.50,625.00 L862.23,624.46 L861.96,623.93 L861.69,623.39 L861.41,622.86 L861.14,622.32 L860.87,621.79 L860.60,621.25 L860.39,620.71 L860.19,620.16 L859.98,619.62 L859.77,619.08 L859.57,618.53 L859.36,617.99 L859.15,617.45 L858.95,616.90 L858.74,616.36 L858.53,615.82 L858.33,615.27 L858.12,614.73 L857.91,614.19 L857.71,613.64 L857.50,613.10 L857.31,612.52 L857.12,611.95 L856.92,611.37 L856.73,610.79 L856.54,610.22 L856.35,609.64 L856.15,609.06 L855.96,608.48 L855.77,607.91 L855.58,607.33 L855.38,606.75 L855.19,606.18 L855.00,605.60 L854.76,605.04 L854.51,604.49 L854.27,603.93 L854.02,603.38 L853.78,602.82 L853.53,602.27 L853.29,601.71 L853.04,601.16 L852.80,600.60 L852.56,600.04 L852.31,599.49 L852.07,598.93 L851.82,598.38 L851.58,597.82 L851.33,597.27 L851.09,596.71 L850.84,596.16 L850.60,595.60 L850.38,595.04 L850.16,594.48 L849.94,593.92 L849.71,593.36 L849.49,592.80 L849.27,592.24 L849.05,591.67 L848.83,591.11 L848.61,590.55 L848.39,589.99 L848.16,589.43 L847.94,588.87 L847.72,588.31 L847.50,587.75 L847.26,587.20 L847.02,586.65 L846.78,586.10 L846.55,585.55 L846.31,585.00 L846.07,584.45 L845.83,583.90 L845.59,583.35 L845.35,582.80 L845.12,582.25 L844.88,581.70 L844.64,581.15 L844.40,580.60 L844.16,580.07 L843.92,579.55 L843.67,579.02 L843.43,578.49 L843.19,577.97 L842.95,577.44 L842.70,576.91 L842.46,576.38 L842.22,575.86 L841.98,575.33 L841.73,574.80 L841.49,574.28 L841.25,573.75 L840.88,573.25 L840.50,572.75 L840.12,572.25 L839.75,571.71 L839.38,571.16 L839.00,570.62 L838.62,570.02 L838.25,569.73 L837.88,569.56 L837.50,568.96 L837.22,567.92 L836.94,568.28 L836.65,567.42 L836.37,567.24 L836.09,565.88 L835.81,566.48 L835.53,565.79 L835.25,564.61 L834.96,563.19 L834.68,564.13 L834.40,563.55 L833.91,563.13 L833.42,562.68 L832.93,561.14 L832.44,560.71 L831.96,561.73 L831.47,561.25 L830.98,559.38 L830.49,558.75 L830.00,558.94 L829.72,561.03 L829.44,559.25 L829.17,557.59 L828.89,557.11 L828.61,558.60 L828.33,556.76 L828.06,555.86 L827.78,555.27 L827.50,555.78 L827.08,555.87 L826.67,555.29 L826.25,553.97 L825.83,551.85 L825.42,551.98 L825.00,553.41 L824.58,552.53 L824.17,550.54 L823.75,552.60 L823.52,551.10 L823.30,549.32 L823.07,548.88 L822.84,548.00 L822.61,549.72 L822.39,547.41 L822.16,548.00 L821.93,546.89 L821.70,546.78 L821.48,544.24 L821.25,544.61 L820.75,545.01 L820.25,545.64 L819.75,545.23 L819.25,544.02 L818.75,542.03 L818.25,542.38 L817.75,540.69 L817.25,541.64 L816.75,541.77 L816.25,542.86 L815.94,539.84 L815.62,541.56 L815.31,539.74 L815.00,538.18 L814.69,539.02 L814.38,538.94 L814.06,538.75 L813.75,537.72 L813.44,537.91 L813.12,537.60 L812.81,536.10 L812.50,535.86 L811.96,533.72 L811.43,536.09 L810.89,534.77 L810.36,537.17 L809.82,535.24 L809.29,536.80 L808.75,537.13 L808.52,535.96 L808.30,534.62 L808.07,533.14 L807.84,532.54 L807.61,532.68 L807.39,532.92 L807.16,532.88 L806.93,532.02 L806.70,530.67 L806.48,531.58 L806.25,530.12 L805.68,530.46 L805.11,530.43 L804.55,531.10 L803.98,530.62 L803.41,531.07 L802.84,528.98 L802.27,529.90 L801.70,529.01 L801.14,528.58 L800.57,528.22 L800.00,527.14 L800.28,527.57 L800.56,527.26 L800.83,526.01 L801.11,526.82 L801.39,526.01 L801.67,523.75 L801.94,524.44 L802.22,525.33 L802.50,524.17 L801.94,524.71 L801.39,523.82 L800.83,522.32 L800.28,523.65 L799.72,521.34 L799.17,523.44 L798.61,522.55 L798.06,520.16 L797.50,520.13 L797.00,519.30 L796.50,520.47 L796.00,521.25 L795.50,518.54 L795.00,519.04 L794.50,519.40 L794.00,519.81 L793.50,519.41 L793.00,519.52 L792.50,516.64 L791.94,517.13 L791.39,516.90 L790.83,518.77 L790.28,517.57 L789.72,518.41 L789.17,517.32 L788.61,517.71 L788.06,517.64 L787.50,518.39 L787.19,519.53 L786.88,517.65 L786.56,517.45 L786.25,515.08 L785.94,517.77 L785.62,514.10 L785.31,514.83 L785.00,515.65 L784.69,512.71 L784.38,513.87 L784.06,514.62 L783.75,512.61 L783.37,513.50 L782.98,512.45 L782.60,510.86 L782.21,510.35 L781.83,509.96 L781.44,511.03 L781.06,508.51 L780.67,507.36 L780.29,509.18" stroke="#8bb5ae" stroke-width="4.17" stroke-dasharray="4.17 4.17" stroke-dashoffset="3.2"/>
<path d="M225.10,76.50 L235.00,73.75 L243.10,75.00 L250.00,79.75 L256.90,84.00 L263.75,88.75 L270.60,93.10 L277.50,96.90 L280.00,93.75 L285.40,92.20 L288.40,99.50 L292.30,106.80 L293.60,99.50 L294.90,91.30 L295.80,83.10 L296.60,75.00 L298.30,66.80 L301.40,74.10 L304.80,81.40 L308.20,89.20 L310.00,84.40 L310.80,76.20 L311.90,66.80 L312.70,73.20 L313.80,81.00 L314.70,90.40 L317.30,84.40 L320.30,76.70 L322.90,84.00 L326.30,87.90 L328.00,96.50 L328.90,75.00 L329.90,57.70 L330.20,67.20 L331.90,81.00 L331.90,105.90 L334.00,90.00 L336.60,84.40 L337.90,76.70 L338.30,84.00 L336.60,93.00 L336.60,101.60 L342.20,91.30 L345.00,87.50 L347.00,71.50 L347.40,80.00 L348.30,87.90 L349.10,94.30 L353.80,88.70 L355.10,99.90 L356.50,90.00 L358.60,82.70 L359.50,92.00 L360.50,100.00 L361.50,90.00 L363.30,88.70 L362.50,97.30 L364.00,104.00 L365.50,95.00 L368.50,97.30 L366.00,103.00 L363.30,105.10 L367.00,110.00 L369.00,101.00 L372.80,105.10 L369.00,108.00 L365.00,112.80 L368.00,116.00 L370.20,114.10 L372.00,107.00 L374.00,113.00 L376.00,108.00 L378.00,104.00 L381.30,85.30 L381.60,95.00 L381.90,110.50 L376.00,110.60 L382.20,111.50 L379.00,114.00 L376.20,119.70 L379.00,117.00 L382.20,119.70 L379.70,125.70 L382.70,127.50 L384.40,137.50 L386.25,145.00 L386.90,152.50 L387.75,161.25 L388.50,169.40 L389.00,178.10 L390.00,186.25 L392.50,183.10 L395.60,178.10 L399.40,186.90 L401.25,194.40 L403.75,204.40 L406.00,198.10 L408.50,190.60 L411.50,198.75 L414.00,206.90 L416.25,215.00 L418.50,222.75 L423.75,229.00 L427.75,236.25 L431.60,243.50 L436.25,236.90 L439.00,241.90 L440.60,250.00 L442.25,257.75 L443.75,266.25 L445.60,274.00 L448.75,273.10 L452.50,265.60 L458.50,261.90 L463.50,268.10 L466.25,275.60 L473.50,277.25 L480.60,273.10 L486.25,276.50 L488.75,273.10 L491.25,262.75 L493.10,270.60 L495.00,279.00 L498.10,285.60 L500.60,276.25 L501.90,268.75 L504.40,278.00 L505.00,286.25 L507.50,280.00 L510.60,285.00 L511.00,293.10 L513.00,285.00 L514.00,276.00 L516.25,283.75 L519.40,290.60 L521.25,298.75 L522.25,306.00 L523.75,296.00 L525.00,288.75 L526.90,280.60 L530.60,275.60 L531.25,284.40 L533.10,293.75 L535.60,302.50 L537.50,311.25 L540.00,318.75 L541.25,311.00 L541.90,302.50 L543.10,295.00 L545.00,304.40 L541.00,310.60 L548.10,313.10 L552.50,313.10 L553.60,329.60 L554.60,320.60 L557.90,295.50 L557.90,312.00 L559.70,319.20 L559.70,327.80 L564.70,325.20 L564.30,317.40 L568.60,329.90 L570.40,304.80 L570.40,320.60 L574.00,328.80 L575.80,332.80 L578.30,324.90 L580.80,317.70 L582.60,326.30 L583.70,343.50 L583.30,335.30 L586.20,309.10 L586.20,325.20 L588.40,332.80 L590.00,340.00 L592.70,327.00 L593.00,339.60 L593.98,347.80 L594.65,331.40 L595.31,339.60 L596.22,356.00 L596.88,347.80 L597.56,331.40 L598.26,356.00 L599.01,331.40 L599.95,331.40 L600.80,347.80 L601.89,347.80 L602.68,347.80 L603.47,347.80 L604.54,356.00 L605.52,356.00 L606.35,347.80 L607.01,347.80 L607.75,347.80 L608.55,339.60 L609.50,339.60 L610.56,356.00 L611.56,347.80 L612.48,364.20 L613.58,347.80 L614.74,347.80 L614.75,325.00 L615.00,333.00 L615.43,339.60 L616.15,364.20 L617.04,364.20 L618.08,356.00 L619.02,364.20 L620.03,347.80 L620.98,347.80 L622.06,356.00 L623.20,347.80 L623.87,364.20" stroke="#d58aaa" stroke-width="4.17" stroke-dasharray="4.17 4.17"/>
<path d="M823.10,643.50 L822.43,644.54 L821.77,645.58 L821.10,646.62 L820.43,647.67 L819.77,648.71 L819.10,649.75 L818.40,650.84 L817.70,651.93 L817.00,653.02 L816.30,654.11 L815.60,655.20 L815.31,654.07 L815.02,652.93 L814.73,651.80 L814.44,650.67 L814.16,649.53 L813.87,648.40 L813.58,647.27 L813.29,646.13 L813.00,645.00 L812.71,643.84 L812.43,642.69 L812.14,641.53 L811.86,640.37 L811.57,639.21 L811.29,638.06 L811.00,636.90 L810.71,635.74 L810.43,634.57 L810.14,633.41 L809.86,632.24 L809.57,631.08 L809.29,629.91 L809.00,628.75 L808.70,627.59 L808.40,626.42 L808.10,625.26 L807.80,624.09 L807.50,622.93 L807.20,621.76 L806.90,620.60 L806.09,619.76 L805.29,618.93 L804.48,618.09 L803.67,617.26 L802.86,616.42 L802.06,615.59 L801.25,614.75 L800.00,615.05 L798.75,615.35 L797.50,615.65 L796.25,615.95 L795.00,616.25 L794.86,615.00 L794.71,613.75 L794.57,612.50 L794.43,611.25 L794.29,610.00 L794.14,608.75 L794.00,607.50 L793.84,606.29 L793.69,605.07 L793.53,603.86 L793.37,602.64 L793.21,601.43 L793.06,600.21 L792.90,599.00 L792.76,597.86 L792.61,596.71 L792.47,595.57 L792.33,594.43 L792.19,593.29 L792.04,592.14 L791.90,591.00 L791.71,589.79 L791.53,588.57 L791.34,587.36 L791.16,586.14 L790.97,584.93 L790.79,583.71 L790.60,582.50 L790.12,581.43 L789.64,580.36 L789.16,579.29 L788.69,578.21 L788.21,577.14 L787.73,576.07 L787.25,575.00 L786.88,576.04 L786.50,577.08 L786.12,578.12 L785.75,579.17 L785.38,580.21 L785.00,581.25 L784.56,582.41 L784.11,583.58 L783.67,584.74 L783.23,585.91 L782.79,587.07 L782.34,588.24 L781.90,589.40 L781.36,588.24 L780.81,587.07 L780.27,585.91 L779.73,584.74 L779.19,583.58 L778.64,582.41 L778.10,581.25 L777.20,580.56 L776.30,579.86 L775.40,579.17 L774.50,578.47 L773.60,577.78 L772.70,577.08 L771.80,576.39 L770.90,575.69 L770.00,575.00 L771.15,574.68 L772.30,574.37 L773.45,574.05 L774.60,573.73 L775.75,573.42 L776.90,573.10 L776.04,572.33 L775.17,571.55 L774.31,570.77 L773.45,570.00 L772.59,569.23 L771.73,568.45 L770.86,567.67 L770.00,566.90 L771.12,566.40 L772.24,565.90 L773.36,565.40 L774.48,564.90 L775.60,564.40 L775.50,563.26 L775.40,562.12 L775.30,560.98 L775.20,559.84 L775.10,558.70 L775.00,557.56 L774.90,556.42 L774.80,555.28 L774.70,554.14 L774.60,553.00 L774.53,551.77 L774.47,550.53 L774.40,549.30 L774.33,548.07 L774.27,546.83 L774.20,545.60 L774.13,544.37 L774.07,543.13 L774.00,541.90 L774.08,543.12 L774.16,544.34 L774.24,545.56 L774.32,546.78 L774.40,548.00 L773.75,549.30 L773.10,550.60 L773.53,551.73 L773.96,552.86 L774.39,553.99 L774.82,555.12 L775.25,556.25 L774.41,557.04 L773.58,557.83 L772.74,558.61 L771.90,559.40 L770.77,559.14 L769.64,558.88 L768.51,558.62 L767.38,558.36 L766.25,558.10 L765.12,557.73 L763.99,557.36 L762.86,556.99 L761.73,556.62 L760.60,556.25 L760.16,555.18 L759.71,554.11 L759.27,553.04 L758.83,551.96 L758.39,550.89 L757.94,549.82 L757.50,548.75 L757.36,547.59 L757.21,546.42 L757.07,545.26 L756.93,544.09 L756.79,542.93 L756.64,541.76 L756.50,540.60 L756.37,539.44 L756.24,538.29 L756.11,537.13 L755.99,535.97 L755.86,534.81 L755.73,533.66 L755.60,532.50 L755.43,531.25 L755.26,530.00 L755.09,528.75 L754.91,527.50 L754.74,526.25 L754.57,525.00 L754.40,523.75 L753.92,522.81 L753.45,521.88 L752.98,520.94 L752.50,520.00 L752.29,521.25 L752.07,522.50 L751.86,523.75 L751.64,525.00 L751.43,526.25 L751.21,527.50 L751.00,528.75 L750.64,529.91 L750.29,531.08 L749.93,532.24 L749.57,533.41 L749.21,534.57 L748.86,535.74 L748.50,536.90 L747.94,535.80 L747.38,534.70 L746.81,533.60 L746.25,532.50 L746.21,531.25 L746.17,530.00 L746.12,528.75 L746.08,527.50 L746.04,526.25 L746.00,525.00 L745.94,523.75 L745.89,522.50 L745.83,521.25 L745.77,520.00 L745.71,518.75 L745.66,517.50 L745.60,516.25 L744.76,515.46 L743.92,514.67 L743.09,513.89 L742.25,513.10 L742.80,512.10 L743.35,511.10 L743.90,510.10 L744.45,509.10 L745.00,508.10 L744.23,507.33 L743.45,506.55 L742.67,505.77 L741.90,505.00 L742.52,503.75 L743.13,502.50 L743.75,501.25 L743.79,500.00 L743.83,498.75 L743.88,497.50 L743.92,496.25 L743.96,495.00 L744.00,493.75 L743.31,492.81 L742.62,491.88 L741.94,490.94 L741.25,490.00 L741.11,488.85 L740.97,487.70 L740.83,486.55 L740.68,485.40 L740.54,484.25 L740.40,483.10 L740.26,484.26 L740.11,485.43 L739.97,486.59 L739.83,487.76 L739.69,488.92 L739.54,490.09 L739.40,491.25 L739.49,492.50 L739.57,493.75 L739.66,495.00 L739.74,496.25 L739.83,497.50 L739.91,498.75 L740.00,500.00 L739.61,501.06 L739.23,502.12 L738.84,503.19 L738.45,504.25 L738.06,505.31 L737.67,506.38 L737.29,507.44 L736.90,508.50 L735.85,507.75 L734.80,507.00 L733.75,506.25 L733.33,505.21 L732.92,504.17 L732.50,503.12 L732.08,502.08 L731.67,501.04 L731.25,500.00 L730.75,501.00 L730.25,502.00 L729.75,503.00 L729.25,504.00 L728.75,505.00 L727.92,504.07 L727.08,503.13 L726.25,502.20 L725.42,501.27 L724.58,500.33 L723.75,499.40 L724.54,498.45 L725.33,497.50 L726.11,496.55 L726.90,495.60 L726.22,494.60 L725.54,493.60 L724.86,492.60 L724.18,491.60 L723.50,490.60 L723.44,489.36 L723.39,488.11 L723.33,486.87 L723.27,485.63 L723.21,484.39 L723.16,483.14 L723.10,481.90 L721.87,481.47 L720.63,481.03 L719.40,480.60 L719.92,479.42 L720.43,478.23 L720.95,477.05 L721.47,475.87 L721.98,474.68 L722.50,473.50 L721.25,473.40 L720.00,473.30 L718.75,473.20 L717.50,473.10 L716.50,472.36 L715.50,471.62 L714.50,470.88 L713.50,470.14 L712.50,469.40 L713.59,468.77 L714.69,468.15 L715.78,467.52 L716.88,466.90 L717.97,466.27 L719.06,465.65 L720.16,465.02 L721.25,464.40 L720.00,464.27 L718.75,464.14 L717.50,464.01 L716.25,463.88 L715.00,463.75 L713.75,463.59 L712.50,463.43 L711.25,463.26 L710.00,463.10 L711.25,462.90 L712.50,462.70 L713.75,462.50 L713.92,461.35 L714.08,460.20 L714.25,459.05 L714.42,457.90 L714.58,456.75 L714.75,455.60 L713.64,455.40 L712.53,455.20 L711.42,455.00 L710.32,454.80 L709.21,454.60 L708.10,454.40 L707.01,453.61 L705.92,452.82 L704.84,452.04 L703.75,451.25 L703.49,450.04 L703.22,448.82 L702.96,447.61 L702.69,446.39 L702.43,445.18 L702.16,443.96 L701.90,442.75 L700.73,442.79 L699.55,442.84 L698.38,442.88 L697.20,442.93 L696.02,442.97 L694.85,443.01 L693.67,443.06 L692.50,443.10 L693.25,442.17 L694.00,441.23 L694.75,440.30 L695.50,439.36 L696.25,438.43 L697.00,437.49 L697.75,436.56 L698.50,435.62 L699.25,434.69 L700.00,433.75 L698.91,434.06 L697.81,434.38 L696.72,434.69 L695.62,435.00 L694.53,435.31 L693.44,435.62 L692.34,435.94 L691.25,436.25 L691.96,434.60 L692.68,434.46 L693.39,433.57 L694.11,432.68 L694.82,431.79 L695.54,430.89 L696.25,430.00 L695.75,429.00 L695.25,428.00 L694.75,427.00 L694.25,426.00 L693.75,425.00 L692.81,425.94 L691.88,426.40 L690.94,434.60 L690.00,428.75 L688.75,426.40 L687.50,426.40 L686.25,434.60 L685.00,427.50 L685.63,418.20 L686.26,426.40 L686.89,426.40 L687.51,426.40 L688.14,426.40 L688.77,418.20 L689.40,420.00 L689.27,418.20 L689.14,418.20 L689.01,418.20 L688.88,410.00 L688.75,413.75 L687.66,410.00 L686.56,418.20 L685.47,410.00 L684.38,426.40 L683.28,418.20 L682.19,426.40 L681.09,418.20 L680.00,417.50 L680.32,418.20 L680.63,418.20 L680.95,426.40 L681.27,418.20 L681.58,426.40 L681.90,425.00 L681.36,418.20 L680.81,434.60 L680.27,426.40 L679.73,426.40 L679.19,434.60 L678.64,434.60 L678.10,432.50 L677.98,426.40 L677.86,426.40 L677.74,426.40 L677.62,426.40 L677.50,426.25 L676.88,434.60 L676.25,426.40 L675.62,426.40 L675.00,426.40 L674.38,418.20 L673.75,420.00 L673.64,418.20 L673.53,418.20 L673.42,418.20 L673.32,418.20 L673.21,410.00 L673.10,412.50 L672.58,410.00 L672.05,410.00 L671.52,410.00 L671.00,408.00 L670.27,410.00 L669.55,410.00 L668.83,410.00 L668.10,404.40 L668.73,393.60 L669.35,401.80 L669.98,393.60 L670.60,400.00 L669.40,401.80 L668.20,401.80 L667.00,400.00 L667.38,401.80 L667.75,401.80 L668.12,401.80 L668.50,393.60 L668.88,393.60 L669.25,393.60 L669.62,393.60 L670.00,391.25 L669.50,393.60 L669.00,393.60 L668.50,401.80 L668.00,396.00 L667.00,401.80 L666.00,393.60 L665.00,393.60 L664.00,394.00 L664.36,393.60 L664.71,393.60 L665.07,385.40 L665.43,393.60 L665.79,393.60 L666.14,385.40 L666.50,386.25 L666.44,385.40 L666.38,385.40 L666.31,377.20 L666.25,385.40 L666.19,385.40 L666.12,377.20 L666.06,377.20 L666.00,376.25 L665.75,377.20 L665.50,377.20 L665.25,377.20 L665.00,385.40 L664.75,377.20 L664.50,383.00 L664.31,385.40 L664.12,385.40 L663.94,385.40 L663.75,385.40 L663.56,385.40 L663.38,393.60 L663.19,385.40 L663.00,392.00 L662.71,393.60 L662.43,393.60 L662.14,385.40 L661.86,385.40 L661.57,385.40 L661.29,385.40 L661.00,384.00 L660.83,385.40 L660.67,385.40 L660.50,393.60 L660.33,393.60 L660.17,385.40 L660.00,391.25 L659.00,401.80 L658.00,393.60 L657.00,394.00 L656.35,393.60 L655.70,401.80 L655.05,401.80 L654.40,393.60 L653.75,401.80 L653.10,399.40 L653.73,401.80 L654.37,393.60 L655.00,396.00 L654.52,393.60 L654.05,401.80 L653.58,393.60 L653.10,391.25 L653.83,393.60 L654.55,393.60 L655.27,393.60 L656.00,388.00 L656.30,385.40 L656.60,385.40 L656.90,385.40 L657.20,377.20 L657.50,377.20 L657.80,377.20 L658.10,380.00 L657.05,385.40 L656.00,381.00 L655.75,385.40 L655.50,385.40 L655.25,385.40 L655.00,385.40 L654.75,385.40 L654.50,385.40 L654.25,385.40 L654.00,390.00 L652.74,380.60 L651.63,388.80 L650.99,388.80 L650.28,380.60 L650.00,361.90 L649.65,372.40 L648.93,380.60 L648.19,380.60 L647.22,380.60 L646.53,364.20 L645.47,364.20 L644.37,380.60 L643.71,372.40 L642.71,356.00 L641.71,380.60 L640.56,364.20 L639.71,364.20 L639.08,364.20 L638.18,372.40 L637.43,372.40 L636.72,380.60 L635.57,356.00 L634.72,347.80 L633.94,372.40 L632.83,364.20 L631.90,372.40 L631.00,353.00 L630.80,364.20 L630.60,345.00 L629.96,364.20 L628.92,364.20 L628.25,364.20 L627.37,372.40 L626.73,347.80 L625.95,339.60 L624.87,339.60 L623.87,364.20" stroke="#d58aaa" stroke-width="4.17" stroke-dasharray="4.17 4.17" stroke-dashoffset="3.0"/>
</g>
<g fill="#262626" font-size="30.56px">
<text x="256.25" y="904.9" text-anchor="middle">10<tspan font-size="21.39px" dy="-11.4" dx="0.2">1</tspan></text>
<text x="355.91" y="904.9" text-anchor="middle">10<tspan font-size="21.39px" dy="-11.4" dx="0.2">2</tspan></text>
<text x="455.58" y="904.9" text-anchor="middle">10<tspan font-size="21.39px" dy="-11.4" dx="0.2">3</tspan></text>
<text x="555.24" y="904.9" text-anchor="middle">10<tspan font-size="21.39px" dy="-11.4" dx="0.2">4</tspan></text>
<text x="654.90" y="904.9" text-anchor="middle">10<tspan font-size="21.39px" dy="-11.4" dx="0.2">5</tspan></text>
<text x="754.57" y="904.9" text-anchor="middle">10<tspan font-size="21.39px" dy="-11.4" dx="0.2">6</tspan></text>
<text x="854.23" y="904.9" text-anchor="middle">10<tspan font-size="21.39px" dy="-11.4" dx="0.2">7</tspan></text>
<text x="79.0" y="110.85">10<tspan font-size="21.39px" dy="-10.8" dx="0.4">−3</tspan></text>
<text x="79.0" y="213.85">10<tspan font-size="21.39px" dy="-10.8" dx="0.4">−4</tspan></text>
<text x="79.0" y="315.90">10<tspan font-size="21.39px" dy="-10.8" dx="0.4">−5</tspan></text>
<text x="79.0" y="418.90">10<tspan font-size="21.39px" dy="-10.8" dx="0.4">−6</tspan></text>
<text x="79.0" y="521.90">10<tspan font-size="21.39px" dy="-10.8" dx="0.4">−7</tspan></text>
<text x="79.0" y="624.90">10<tspan font-size="21.39px" dy="-10.8" dx="0.4">−8</tspan></text>
<text x="79.0" y="727.90">10<tspan font-size="21.39px" dy="-10.8" dx="0.4">−9</tspan></text>
<text x="65.0" y="830.90">10<tspan font-size="21.39px" dy="-10.8" dx="0.4">−10</tspan></text>
</g>
<text x="555.8" y="948.5" text-anchor="middle" font-size="33.33px" fill="#262626">fragment separation, bp</text>
<text transform="translate(44.6,437.7) rotate(-90)" text-anchor="middle" font-size="33.33px" fill="#262626">probability density</text>
<line x1="953.1" y1="374" x2="1014" y2="374" stroke="#001c7f" stroke-width="4.17" stroke-linecap="round"/>
<text x="1038.8" y="384.9" font-size="30.56px" fill="#262626">37812_4#1</text>
<line x1="953.1" y1="600.8" x2="1014" y2="600.8" stroke="#8bb5ae" stroke-width="4.17" stroke-dasharray="4.17 4.17"/>
<text x="1039.2" y="612.3" font-size="30.56px" fill="#8bb5ae">example good</text>
<line x1="953.1" y1="644.9" x2="1014" y2="644.9" stroke="#d58aaa" stroke-width="4.17" stroke-dasharray="4.17 4.17"/>
<text x="1039.2" y="655.8" font-size="30.56px" fill="#d58aaa">example bad</text>
</svg></body></html>
